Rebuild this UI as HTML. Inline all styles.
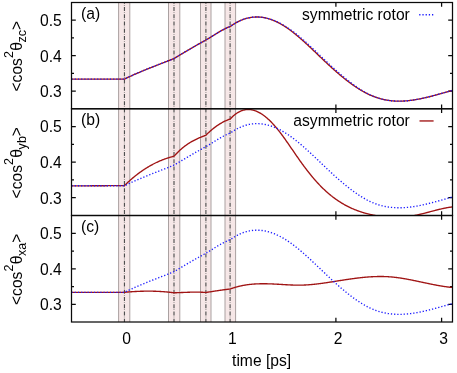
<!DOCTYPE html>
<html><head><meta charset="utf-8"><title>chart</title>
<style>html,body{margin:0;padding:0;background:#fff;width:457px;height:373px;overflow:hidden}body{position:relative;font-family:"Liberation Sans",sans-serif}</style>
</head><body>
<svg width="457" height="373" viewBox="0 0 457 373" style="display:block;position:absolute;left:0;top:0;will-change:transform" font-family="Liberation Sans, sans-serif" font-size="15.65" fill="#000">
<defs>
<clipPath id="cpa"><rect x="71.5" y="2.5" width="381.0" height="106.25"/></clipPath>
<clipPath id="cpb"><rect x="71.5" y="108.75" width="381.0" height="106.75"/></clipPath>
<clipPath id="cpc"><rect x="71.5" y="215.5" width="381.0" height="106.5"/></clipPath>
</defs>
<g stroke="#0a0a0a" stroke-width="1.25" fill="none">
<path d="M71.5,91.04h4.3 M452.5,91.04h-4.3"/>
<path d="M71.5,55.62h4.3 M452.5,55.62h-4.3"/>
<path d="M71.5,20.21h4.3 M452.5,20.21h-4.3"/>
<path d="M71.5,73.33h2.5 M452.5,73.33h-2.5"/>
<path d="M71.5,37.92h2.5 M452.5,37.92h-2.5"/>
<path d="M124.50,108.75v-4.3 M124.50,2.5v4.3"/>
<path d="M230.20,108.75v-4.3 M230.20,2.5v4.3"/>
<path d="M335.90,108.75v-4.3 M335.90,2.5v4.3"/>
<path d="M441.60,108.75v-4.3 M441.60,2.5v4.3"/>
<path d="M71.5,197.71h4.3 M452.5,197.71h-4.3"/>
<path d="M71.5,162.12h4.3 M452.5,162.12h-4.3"/>
<path d="M71.5,126.54h4.3 M452.5,126.54h-4.3"/>
<path d="M71.5,179.92h2.5 M452.5,179.92h-2.5"/>
<path d="M71.5,144.33h2.5 M452.5,144.33h-2.5"/>
<path d="M124.50,215.5v-4.3 M124.50,108.75v4.3"/>
<path d="M230.20,215.5v-4.3 M230.20,108.75v4.3"/>
<path d="M335.90,215.5v-4.3 M335.90,108.75v4.3"/>
<path d="M441.60,215.5v-4.3 M441.60,108.75v4.3"/>
<path d="M71.5,304.25h4.3 M452.5,304.25h-4.3"/>
<path d="M71.5,268.75h4.3 M452.5,268.75h-4.3"/>
<path d="M71.5,233.25h4.3 M452.5,233.25h-4.3"/>
<path d="M71.5,286.50h2.5 M452.5,286.50h-2.5"/>
<path d="M71.5,251.00h2.5 M452.5,251.00h-2.5"/>
<path d="M124.50,322.0v-4.3 M124.50,215.5v4.3"/>
<path d="M230.20,322.0v-4.3 M230.20,215.5v4.3"/>
<path d="M335.90,322.0v-4.3 M335.90,215.5v4.3"/>
<path d="M441.60,322.0v-4.3 M441.60,215.5v4.3"/>
</g>
<rect x="118.60" y="2.5" width="11.20" height="319.5" fill="#f6e7e7"/>
<line x1="118.60" y1="2.5" x2="118.60" y2="322" stroke="#aaa1a1" stroke-width="1"/>
<line x1="129.80" y1="2.5" x2="129.80" y2="322" stroke="#aaa1a1" stroke-width="1"/>
<line x1="124.45" y1="2.5" x2="124.45" y2="322" stroke="#505050" stroke-width="1.15" stroke-dasharray="4.0 1.35 0.5 1.4" stroke-dashoffset="2.75"/>
<rect x="168.50" y="2.5" width="11.30" height="319.5" fill="#f6e7e7"/>
<line x1="168.50" y1="2.5" x2="168.50" y2="322" stroke="#aaa1a1" stroke-width="1"/>
<line x1="179.80" y1="2.5" x2="179.80" y2="322" stroke="#aaa1a1" stroke-width="1"/>
<line x1="174.00" y1="2.5" x2="174.00" y2="322" stroke="#505050" stroke-width="1.15" stroke-dasharray="4.0 1.35 0.5 1.4" stroke-dashoffset="2.75"/>
<rect x="200.50" y="2.5" width="10.50" height="319.5" fill="#f6e7e7"/>
<line x1="200.50" y1="2.5" x2="200.50" y2="322" stroke="#aaa1a1" stroke-width="1"/>
<line x1="211.00" y1="2.5" x2="211.00" y2="322" stroke="#aaa1a1" stroke-width="1"/>
<line x1="205.90" y1="2.5" x2="205.90" y2="322" stroke="#505050" stroke-width="1.15" stroke-dasharray="4.0 1.35 0.5 1.4" stroke-dashoffset="2.75"/>
<rect x="225.00" y="2.5" width="10.60" height="319.5" fill="#f6e7e7"/>
<line x1="225.00" y1="2.5" x2="225.00" y2="322" stroke="#aaa1a1" stroke-width="1"/>
<line x1="235.60" y1="2.5" x2="235.60" y2="322" stroke="#aaa1a1" stroke-width="1"/>
<line x1="230.10" y1="2.5" x2="230.10" y2="322" stroke="#505050" stroke-width="1.15" stroke-dasharray="4.0 1.35 0.5 1.4" stroke-dashoffset="2.75"/>
<g fill="none" stroke-linejoin="round">
<path clip-path="url(#cpa)" d="M71.50,79.10 L72.00,79.10 L72.50,79.10 L73.00,79.10 L73.50,79.10 L74.00,79.10 L74.50,79.10 L75.00,79.10 L75.50,79.10 L76.00,79.10 L76.50,79.10 L77.00,79.10 L77.50,79.10 L78.00,79.10 L78.50,79.10 L79.00,79.10 L79.50,79.10 L80.00,79.10 L80.50,79.10 L81.00,79.10 L81.50,79.10 L82.00,79.10 L82.50,79.10 L83.00,79.10 L83.50,79.10 L84.00,79.10 L84.50,79.10 L85.00,79.10 L85.50,79.10 L86.00,79.10 L86.50,79.10 L87.00,79.10 L87.50,79.10 L88.00,79.10 L88.50,79.10 L89.00,79.10 L89.50,79.10 L90.00,79.10 L90.50,79.10 L91.00,79.10 L91.50,79.10 L92.00,79.10 L92.50,79.10 L93.00,79.10 L93.50,79.10 L94.00,79.10 L94.50,79.10 L95.00,79.10 L95.50,79.10 L96.00,79.10 L96.50,79.10 L97.00,79.10 L97.50,79.10 L98.00,79.10 L98.50,79.10 L99.00,79.10 L99.50,79.10 L100.00,79.10 L100.50,79.10 L101.00,79.10 L101.50,79.10 L102.00,79.10 L102.50,79.10 L103.00,79.10 L103.50,79.10 L104.00,79.10 L104.50,79.10 L105.00,79.10 L105.50,79.10 L106.00,79.10 L106.50,79.10 L107.00,79.10 L107.50,79.10 L108.00,79.10 L108.50,79.10 L109.00,79.10 L109.50,79.10 L110.00,79.10 L110.50,79.10 L111.00,79.10 L111.50,79.10 L112.00,79.10 L112.50,79.10 L113.00,79.10 L113.50,79.10 L114.00,79.10 L114.50,79.10 L115.00,79.10 L115.50,79.10 L116.00,79.10 L116.50,79.10 L117.00,79.10 L117.50,79.10 L118.00,79.10 L118.50,79.10 L119.00,79.10 L119.50,79.10 L120.00,79.10 L120.50,79.10 L121.00,79.10 L121.50,79.10 L122.00,79.10 L122.50,79.10 L123.00,79.10 L123.50,79.10 L124.00,79.10 L124.40,79.10 L124.90,78.86 L125.40,78.61 L125.90,78.37 L126.40,78.13 L126.90,77.89 L127.40,77.66 L127.90,77.42 L128.40,77.19 L128.90,76.95 L129.40,76.72 L129.90,76.49 L130.40,76.26 L130.90,76.03 L131.40,75.80 L131.90,75.58 L132.40,75.35 L132.90,75.13 L133.40,74.90 L133.90,74.68 L134.40,74.46 L134.90,74.24 L135.40,74.02 L135.90,73.80 L136.40,73.58 L136.90,73.37 L137.40,73.15 L137.90,72.94 L138.40,72.72 L138.90,72.51 L139.40,72.30 L139.90,72.08 L140.40,71.87 L140.90,71.66 L141.40,71.45 L141.90,71.24 L142.40,71.04 L142.90,70.83 L143.40,70.62 L143.90,70.42 L144.40,70.21 L144.90,70.01 L145.40,69.80 L145.90,69.60 L146.40,69.40 L146.90,69.19 L147.40,68.99 L147.90,68.79 L148.40,68.59 L148.90,68.39 L149.40,68.19 L149.90,67.99 L150.40,67.79 L150.90,67.59 L151.40,67.39 L151.90,67.20 L152.40,67.00 L152.90,66.80 L153.40,66.60 L153.90,66.41 L154.40,66.21 L154.90,66.02 L155.40,65.82 L155.90,65.62 L156.40,65.43 L156.90,65.23 L157.40,65.04 L157.90,64.84 L158.40,64.65 L158.90,64.45 L159.40,64.26 L159.90,64.07 L160.40,63.87 L160.90,63.68 L161.40,63.48 L161.90,63.29 L162.40,63.09 L162.90,62.90 L163.40,62.70 L163.90,62.51 L164.40,62.32 L164.90,62.12 L165.40,61.93 L165.90,61.73 L166.40,61.54 L166.90,61.34 L167.40,61.14 L167.90,60.95 L168.40,60.75 L168.90,60.56 L169.40,60.36 L169.90,60.16 L170.40,59.97 L170.90,59.77 L171.40,59.57 L171.90,59.37 L172.40,59.17 L172.90,58.98 L173.40,58.78 L173.90,58.58 L174.10,58.50 L174.60,58.20 L175.10,57.90 L175.60,57.59 L176.10,57.29 L176.60,56.99 L177.10,56.69 L177.60,56.39 L178.10,56.09 L178.60,55.79 L179.10,55.49 L179.60,55.19 L180.10,54.89 L180.60,54.59 L181.10,54.29 L181.60,53.99 L182.10,53.69 L182.60,53.39 L183.10,53.09 L183.60,52.80 L184.10,52.50 L184.60,52.20 L185.10,51.90 L185.60,51.61 L186.10,51.31 L186.60,51.02 L187.10,50.72 L187.60,50.43 L188.10,50.13 L188.60,49.84 L189.10,49.55 L189.60,49.25 L190.10,48.96 L190.60,48.67 L191.10,48.38 L191.60,48.09 L192.10,47.80 L192.60,47.51 L193.10,47.22 L193.60,46.93 L194.10,46.64 L194.60,46.36 L195.10,46.07 L195.60,45.78 L196.10,45.50 L196.60,45.21 L197.10,44.93 L197.60,44.65 L198.10,44.36 L198.60,44.08 L199.10,43.80 L199.60,43.52 L200.10,43.24 L200.60,42.96 L201.10,42.68 L201.60,42.40 L202.10,42.13 L202.60,41.85 L203.10,41.57 L203.60,41.30 L204.10,41.03 L204.60,40.75 L205.10,40.48 L205.60,40.21 L205.80,40.10 L206.30,39.81 L206.80,39.52 L207.30,39.22 L207.80,38.92 L208.30,38.62 L208.80,38.32 L209.30,38.02 L209.80,37.71 L210.30,37.40 L210.80,37.09 L211.30,36.78 L211.80,36.47 L212.30,36.15 L212.80,35.84 L213.30,35.53 L213.80,35.22 L214.30,34.90 L214.80,34.59 L215.30,34.28 L215.80,33.97 L216.30,33.66 L216.80,33.35 L217.30,33.05 L217.80,32.74 L218.30,32.44 L218.80,32.14 L219.30,31.84 L219.80,31.55 L220.30,31.26 L220.80,30.97 L221.30,30.69 L221.80,30.41 L222.30,30.13 L222.80,29.86 L223.30,29.60 L223.80,29.33 L224.30,29.08 L224.80,28.82 L225.30,28.58 L225.80,28.34 L226.30,28.10 L226.80,27.87 L227.30,27.65 L227.80,27.44 L228.30,27.23 L228.80,27.03 L229.30,26.83 L229.80,26.65 L230.20,26.57 L230.70,26.21 L231.20,25.85 L231.70,25.50 L232.20,25.15 L232.70,24.81 L233.20,24.48 L233.70,24.16 L234.20,23.85 L234.70,23.54 L235.20,23.24 L235.70,22.95 L236.20,22.67 L236.70,22.39 L237.20,22.12 L237.70,21.86 L238.20,21.60 L238.70,21.35 L239.20,21.11 L239.70,20.88 L240.20,20.65 L240.70,20.43 L241.20,20.22 L241.70,20.01 L242.20,19.81 L242.70,19.62 L243.20,19.44 L243.70,19.26 L244.20,19.09 L244.70,18.92 L245.20,18.77 L245.70,18.62 L246.20,18.47 L246.70,18.34 L247.20,18.21 L247.70,18.08 L248.20,17.97 L248.70,17.86 L249.20,17.76 L249.70,17.66 L250.20,17.57 L250.70,17.49 L251.20,17.41 L251.70,17.34 L252.20,17.28 L252.70,17.22 L253.20,17.17 L253.70,17.13 L254.20,17.09 L254.70,17.06 L255.20,17.03 L255.70,17.01 L256.20,17.00 L256.70,17.00 L257.20,17.00 L257.70,17.00 L258.20,17.01 L258.70,17.03 L259.20,17.06 L259.70,17.09 L260.20,17.13 L260.70,17.18 L261.20,17.23 L261.70,17.29 L262.20,17.35 L262.70,17.42 L263.20,17.50 L263.70,17.58 L264.20,17.67 L264.70,17.77 L265.20,17.87 L265.70,17.98 L266.20,18.09 L266.70,18.21 L267.20,18.34 L267.70,18.47 L268.20,18.61 L268.70,18.75 L269.20,18.91 L269.70,19.06 L270.20,19.22 L270.70,19.39 L271.20,19.57 L271.70,19.75 L272.20,19.93 L272.70,20.12 L273.20,20.32 L273.70,20.52 L274.20,20.73 L274.70,20.95 L275.20,21.17 L275.70,21.39 L276.20,21.62 L276.70,21.86 L277.20,22.10 L277.70,22.35 L278.20,22.60 L278.70,22.86 L279.20,23.12 L279.70,23.39 L280.20,23.66 L280.70,23.94 L281.20,24.23 L281.70,24.51 L282.20,24.81 L282.70,25.11 L283.20,25.41 L283.70,25.72 L284.20,26.03 L284.70,26.35 L285.20,26.68 L285.70,27.01 L286.20,27.34 L286.70,27.68 L287.20,28.02 L287.70,28.37 L288.20,28.72 L288.70,29.07 L289.20,29.43 L289.70,29.80 L290.20,30.16 L290.70,30.54 L291.20,30.91 L291.70,31.29 L292.20,31.68 L292.70,32.06 L293.20,32.45 L293.70,32.85 L294.20,33.25 L294.70,33.65 L295.20,34.05 L295.70,34.46 L296.20,34.87 L296.70,35.28 L297.20,35.70 L297.70,36.12 L298.20,36.54 L298.70,36.97 L299.20,37.40 L299.70,37.83 L300.20,38.26 L300.70,38.70 L301.20,39.14 L301.70,39.58 L302.20,40.02 L302.70,40.47 L303.20,40.92 L303.70,41.37 L304.20,41.82 L304.70,42.27 L305.20,42.73 L305.70,43.18 L306.20,43.64 L306.70,44.10 L307.20,44.56 L307.70,45.03 L308.20,45.49 L308.70,45.96 L309.20,46.43 L309.70,46.90 L310.20,47.37 L310.70,47.84 L311.20,48.31 L311.70,48.78 L312.20,49.26 L312.70,49.73 L313.20,50.21 L313.70,50.68 L314.20,51.16 L314.70,51.63 L315.20,52.11 L315.70,52.59 L316.20,53.07 L316.70,53.55 L317.20,54.02 L317.70,54.50 L318.20,54.98 L318.70,55.46 L319.20,55.94 L319.70,56.42 L320.20,56.89 L320.70,57.37 L321.20,57.85 L321.70,58.33 L322.20,58.80 L322.70,59.28 L323.20,59.75 L323.70,60.23 L324.20,60.70 L324.70,61.17 L325.20,61.65 L325.70,62.12 L326.20,62.59 L326.70,63.06 L327.20,63.52 L327.70,63.99 L328.20,64.46 L328.70,64.92 L329.20,65.38 L329.70,65.84 L330.20,66.30 L330.70,66.76 L331.20,67.22 L331.70,67.67 L332.20,68.13 L332.70,68.58 L333.20,69.03 L333.70,69.47 L334.20,69.92 L334.70,70.37 L335.20,70.81 L335.70,71.25 L336.20,71.69 L336.70,72.12 L337.20,72.56 L337.70,72.99 L338.20,73.42 L338.70,73.85 L339.20,74.27 L339.70,74.70 L340.20,75.12 L340.70,75.54 L341.20,75.96 L341.70,76.37 L342.20,76.78 L342.70,77.19 L343.20,77.60 L343.70,78.00 L344.20,78.41 L344.70,78.81 L345.20,79.20 L345.70,79.60 L346.20,79.99 L346.70,80.38 L347.20,80.77 L347.70,81.15 L348.20,81.53 L348.70,81.91 L349.20,82.28 L349.70,82.66 L350.20,83.03 L350.70,83.39 L351.20,83.76 L351.70,84.12 L352.20,84.47 L352.70,84.83 L353.20,85.18 L353.70,85.53 L354.20,85.87 L354.70,86.21 L355.20,86.55 L355.70,86.89 L356.20,87.22 L356.70,87.55 L357.20,87.87 L357.70,88.20 L358.20,88.51 L358.70,88.83 L359.20,89.14 L359.70,89.45 L360.20,89.75 L360.70,90.05 L361.20,90.35 L361.70,90.64 L362.20,90.93 L362.70,91.22 L363.20,91.50 L363.70,91.78 L364.20,92.06 L364.70,92.33 L365.20,92.59 L365.70,92.86 L366.20,93.12 L366.70,93.37 L367.20,93.62 L367.70,93.87 L368.20,94.11 L368.70,94.35 L369.20,94.58 L369.70,94.82 L370.20,95.04 L370.70,95.26 L371.20,95.48 L371.70,95.69 L372.20,95.90 L372.70,96.11 L373.20,96.31 L373.70,96.50 L374.20,96.69 L374.70,96.88 L375.20,97.06 L375.70,97.24 L376.20,97.41 L376.70,97.58 L377.20,97.75 L377.70,97.91 L378.20,98.06 L378.70,98.21 L379.20,98.36 L379.70,98.51 L380.20,98.65 L380.70,98.78 L381.20,98.91 L381.70,99.04 L382.20,99.16 L382.70,99.29 L383.20,99.40 L383.70,99.51 L384.20,99.62 L384.70,99.73 L385.20,99.83 L385.70,99.93 L386.20,100.02 L386.70,100.11 L387.20,100.19 L387.70,100.28 L388.20,100.35 L388.70,100.43 L389.20,100.50 L389.70,100.56 L390.20,100.62 L390.70,100.68 L391.20,100.74 L391.70,100.79 L392.20,100.84 L392.70,100.88 L393.20,100.92 L393.70,100.96 L394.20,100.99 L394.70,101.02 L395.20,101.05 L395.70,101.07 L396.20,101.09 L396.70,101.11 L397.20,101.12 L397.70,101.13 L398.20,101.14 L398.70,101.14 L399.20,101.15 L399.70,101.14 L400.20,101.14 L400.70,101.13 L401.20,101.12 L401.70,101.10 L402.20,101.09 L402.70,101.07 L403.20,101.04 L403.70,101.02 L404.20,100.99 L404.70,100.96 L405.20,100.92 L405.70,100.89 L406.20,100.85 L406.70,100.80 L407.20,100.76 L407.70,100.71 L408.20,100.66 L408.70,100.61 L409.20,100.56 L409.70,100.50 L410.20,100.44 L410.70,100.38 L411.20,100.31 L411.70,100.25 L412.20,100.18 L412.70,100.11 L413.20,100.03 L413.70,99.96 L414.20,99.88 L414.70,99.80 L415.20,99.72 L415.70,99.64 L416.20,99.55 L416.70,99.46 L417.20,99.38 L417.70,99.28 L418.20,99.19 L418.70,99.10 L419.20,99.00 L419.70,98.90 L420.20,98.80 L420.70,98.70 L421.20,98.60 L421.70,98.49 L422.20,98.39 L422.70,98.28 L423.20,98.17 L423.70,98.06 L424.20,97.95 L424.70,97.83 L425.20,97.72 L425.70,97.60 L426.20,97.48 L426.70,97.37 L427.20,97.25 L427.70,97.12 L428.20,97.00 L428.70,96.88 L429.20,96.75 L429.70,96.63 L430.20,96.50 L430.70,96.37 L431.20,96.25 L431.70,96.12 L432.20,95.99 L432.70,95.86 L433.20,95.72 L433.70,95.59 L434.20,95.46 L434.70,95.32 L435.20,95.19 L435.70,95.05 L436.20,94.92 L436.70,94.78 L437.20,94.64 L437.70,94.51 L438.20,94.37 L438.70,94.23 L439.20,94.09 L439.70,93.95 L440.20,93.81 L440.70,93.67 L441.20,93.53 L441.70,93.39 L442.20,93.25 L442.70,93.11 L443.20,92.97 L443.70,92.83 L444.20,92.69 L444.70,92.55 L445.20,92.41 L445.70,92.26 L446.20,92.12 L446.70,91.98 L447.20,91.84 L447.70,91.70 L448.20,91.56 L448.70,91.42 L449.20,91.28 L449.70,91.14 L450.20,91.00 L450.70,90.87 L451.20,90.73 L451.70,90.59 L452.20,90.45 L452.50,90.40" stroke="#a01414" stroke-width="1.35"/>
<path clip-path="url(#cpa)" d="M71.50,79.10 L72.00,79.10 L72.50,79.10 L73.00,79.10 L73.50,79.10 L74.00,79.10 L74.50,79.10 L75.00,79.10 L75.50,79.10 L76.00,79.10 L76.50,79.10 L77.00,79.10 L77.50,79.10 L78.00,79.10 L78.50,79.10 L79.00,79.10 L79.50,79.10 L80.00,79.10 L80.50,79.10 L81.00,79.10 L81.50,79.10 L82.00,79.10 L82.50,79.10 L83.00,79.10 L83.50,79.10 L84.00,79.10 L84.50,79.10 L85.00,79.10 L85.50,79.10 L86.00,79.10 L86.50,79.10 L87.00,79.10 L87.50,79.10 L88.00,79.10 L88.50,79.10 L89.00,79.10 L89.50,79.10 L90.00,79.10 L90.50,79.10 L91.00,79.10 L91.50,79.10 L92.00,79.10 L92.50,79.10 L93.00,79.10 L93.50,79.10 L94.00,79.10 L94.50,79.10 L95.00,79.10 L95.50,79.10 L96.00,79.10 L96.50,79.10 L97.00,79.10 L97.50,79.10 L98.00,79.10 L98.50,79.10 L99.00,79.10 L99.50,79.10 L100.00,79.10 L100.50,79.10 L101.00,79.10 L101.50,79.10 L102.00,79.10 L102.50,79.10 L103.00,79.10 L103.50,79.10 L104.00,79.10 L104.50,79.10 L105.00,79.10 L105.50,79.10 L106.00,79.10 L106.50,79.10 L107.00,79.10 L107.50,79.10 L108.00,79.10 L108.50,79.10 L109.00,79.10 L109.50,79.10 L110.00,79.10 L110.50,79.10 L111.00,79.10 L111.50,79.10 L112.00,79.10 L112.50,79.10 L113.00,79.10 L113.50,79.10 L114.00,79.10 L114.50,79.10 L115.00,79.10 L115.50,79.10 L116.00,79.10 L116.50,79.10 L117.00,79.10 L117.50,79.10 L118.00,79.10 L118.50,79.10 L119.00,79.10 L119.50,79.10 L120.00,79.10 L120.50,79.10 L121.00,79.10 L121.50,79.10 L122.00,79.10 L122.50,79.10 L123.00,79.10 L123.50,79.10 L124.00,79.10 L124.40,79.10 L124.90,78.86 L125.40,78.61 L125.90,78.37 L126.40,78.13 L126.90,77.89 L127.40,77.66 L127.90,77.42 L128.40,77.19 L128.90,76.95 L129.40,76.72 L129.90,76.49 L130.40,76.26 L130.90,76.03 L131.40,75.80 L131.90,75.58 L132.40,75.35 L132.90,75.13 L133.40,74.90 L133.90,74.68 L134.40,74.46 L134.90,74.24 L135.40,74.02 L135.90,73.80 L136.40,73.58 L136.90,73.37 L137.40,73.15 L137.90,72.94 L138.40,72.72 L138.90,72.51 L139.40,72.30 L139.90,72.08 L140.40,71.87 L140.90,71.66 L141.40,71.45 L141.90,71.24 L142.40,71.04 L142.90,70.83 L143.40,70.62 L143.90,70.42 L144.40,70.21 L144.90,70.01 L145.40,69.80 L145.90,69.60 L146.40,69.40 L146.90,69.19 L147.40,68.99 L147.90,68.79 L148.40,68.59 L148.90,68.39 L149.40,68.19 L149.90,67.99 L150.40,67.79 L150.90,67.59 L151.40,67.39 L151.90,67.20 L152.40,67.00 L152.90,66.80 L153.40,66.60 L153.90,66.41 L154.40,66.21 L154.90,66.02 L155.40,65.82 L155.90,65.62 L156.40,65.43 L156.90,65.23 L157.40,65.04 L157.90,64.84 L158.40,64.65 L158.90,64.45 L159.40,64.26 L159.90,64.07 L160.40,63.87 L160.90,63.68 L161.40,63.48 L161.90,63.29 L162.40,63.09 L162.90,62.90 L163.40,62.70 L163.90,62.51 L164.40,62.32 L164.90,62.12 L165.40,61.93 L165.90,61.73 L166.40,61.54 L166.90,61.34 L167.40,61.14 L167.90,60.95 L168.40,60.75 L168.90,60.56 L169.40,60.36 L169.90,60.16 L170.40,59.97 L170.90,59.77 L171.40,59.57 L171.90,59.37 L172.40,59.17 L172.90,58.98 L173.40,58.78 L173.90,58.58 L174.10,58.50 L174.60,58.20 L175.10,57.90 L175.60,57.59 L176.10,57.29 L176.60,56.99 L177.10,56.69 L177.60,56.39 L178.10,56.09 L178.60,55.79 L179.10,55.49 L179.60,55.19 L180.10,54.89 L180.60,54.59 L181.10,54.29 L181.60,53.99 L182.10,53.69 L182.60,53.39 L183.10,53.09 L183.60,52.80 L184.10,52.50 L184.60,52.20 L185.10,51.90 L185.60,51.61 L186.10,51.31 L186.60,51.02 L187.10,50.72 L187.60,50.43 L188.10,50.13 L188.60,49.84 L189.10,49.55 L189.60,49.25 L190.10,48.96 L190.60,48.67 L191.10,48.38 L191.60,48.09 L192.10,47.80 L192.60,47.51 L193.10,47.22 L193.60,46.93 L194.10,46.64 L194.60,46.36 L195.10,46.07 L195.60,45.78 L196.10,45.50 L196.60,45.21 L197.10,44.93 L197.60,44.65 L198.10,44.36 L198.60,44.08 L199.10,43.80 L199.60,43.52 L200.10,43.24 L200.60,42.96 L201.10,42.68 L201.60,42.40 L202.10,42.13 L202.60,41.85 L203.10,41.57 L203.60,41.30 L204.10,41.03 L204.60,40.75 L205.10,40.48 L205.60,40.21 L205.80,40.10 L206.30,39.81 L206.80,39.52 L207.30,39.22 L207.80,38.92 L208.30,38.62 L208.80,38.32 L209.30,38.02 L209.80,37.71 L210.30,37.40 L210.80,37.09 L211.30,36.78 L211.80,36.47 L212.30,36.15 L212.80,35.84 L213.30,35.53 L213.80,35.22 L214.30,34.90 L214.80,34.59 L215.30,34.28 L215.80,33.97 L216.30,33.66 L216.80,33.35 L217.30,33.05 L217.80,32.74 L218.30,32.44 L218.80,32.14 L219.30,31.84 L219.80,31.55 L220.30,31.26 L220.80,30.97 L221.30,30.69 L221.80,30.41 L222.30,30.13 L222.80,29.86 L223.30,29.60 L223.80,29.33 L224.30,29.08 L224.80,28.82 L225.30,28.58 L225.80,28.34 L226.30,28.10 L226.80,27.87 L227.30,27.65 L227.80,27.44 L228.30,27.23 L228.80,27.03 L229.30,26.83 L229.80,26.65 L230.20,26.57 L230.70,26.21 L231.20,25.85 L231.70,25.50 L232.20,25.15 L232.70,24.81 L233.20,24.48 L233.70,24.16 L234.20,23.85 L234.70,23.54 L235.20,23.24 L235.70,22.95 L236.20,22.67 L236.70,22.39 L237.20,22.12 L237.70,21.86 L238.20,21.60 L238.70,21.35 L239.20,21.11 L239.70,20.88 L240.20,20.65 L240.70,20.43 L241.20,20.22 L241.70,20.01 L242.20,19.81 L242.70,19.62 L243.20,19.44 L243.70,19.26 L244.20,19.09 L244.70,18.92 L245.20,18.77 L245.70,18.62 L246.20,18.47 L246.70,18.34 L247.20,18.21 L247.70,18.08 L248.20,17.97 L248.70,17.86 L249.20,17.76 L249.70,17.66 L250.20,17.57 L250.70,17.49 L251.20,17.41 L251.70,17.34 L252.20,17.28 L252.70,17.22 L253.20,17.17 L253.70,17.13 L254.20,17.09 L254.70,17.06 L255.20,17.03 L255.70,17.01 L256.20,17.00 L256.70,17.00 L257.20,17.00 L257.70,17.00 L258.20,17.01 L258.70,17.03 L259.20,17.06 L259.70,17.09 L260.20,17.13 L260.70,17.17 L261.20,17.22 L261.70,17.27 L262.20,17.34 L262.70,17.40 L263.20,17.48 L263.70,17.56 L264.20,17.64 L264.70,17.73 L265.20,17.83 L265.70,17.93 L266.20,18.04 L266.70,18.15 L267.20,18.27 L267.70,18.40 L268.20,18.53 L268.70,18.67 L269.20,18.81 L269.70,18.96 L270.20,19.11 L270.70,19.27 L271.20,19.43 L271.70,19.60 L272.20,19.78 L272.70,19.96 L273.20,20.15 L273.70,20.34 L274.20,20.53 L274.70,20.74 L275.20,20.94 L275.70,21.16 L276.20,21.38 L276.70,21.60 L277.20,21.83 L277.70,22.06 L278.20,22.30 L278.70,22.55 L279.20,22.79 L279.70,23.05 L280.20,23.31 L280.70,23.57 L281.20,23.84 L281.70,24.12 L282.20,24.40 L282.70,24.68 L283.20,24.97 L283.70,25.26 L284.20,25.56 L284.70,25.86 L285.20,26.17 L285.70,26.49 L286.20,26.80 L286.70,27.13 L287.20,27.45 L287.70,27.78 L288.20,28.12 L288.70,28.46 L289.20,28.80 L289.70,29.15 L290.20,29.50 L290.70,29.86 L291.20,30.22 L291.70,30.58 L292.20,30.95 L292.70,31.32 L293.20,31.69 L293.70,32.07 L294.20,32.45 L294.70,32.84 L295.20,33.23 L295.70,33.62 L296.20,34.02 L296.70,34.42 L297.20,34.82 L297.70,35.22 L298.20,35.63 L298.70,36.04 L299.20,36.46 L299.70,36.87 L300.20,37.29 L300.70,37.71 L301.20,38.14 L301.70,38.57 L302.20,39.00 L302.70,39.43 L303.20,39.86 L303.70,40.30 L304.20,40.74 L304.70,41.18 L305.20,41.63 L305.70,42.07 L306.20,42.52 L306.70,42.97 L307.20,43.42 L307.70,43.87 L308.20,44.33 L308.70,44.79 L309.20,45.24 L309.70,45.70 L310.20,46.16 L310.70,46.63 L311.20,47.09 L311.70,47.56 L312.20,48.02 L312.70,48.49 L313.20,48.96 L313.70,49.43 L314.20,49.90 L314.70,50.37 L315.20,50.84 L315.70,51.32 L316.20,51.79 L316.70,52.26 L317.20,52.74 L317.70,53.21 L318.20,53.69 L318.70,54.17 L319.20,54.64 L319.70,55.12 L320.20,55.60 L320.70,56.07 L321.20,56.55 L321.70,57.03 L322.20,57.50 L322.70,57.98 L323.20,58.46 L323.70,58.93 L324.20,59.41 L324.70,59.88 L325.20,60.36 L325.70,60.83 L326.20,61.30 L326.70,61.78 L327.20,62.25 L327.70,62.72 L328.20,63.19 L328.70,63.66 L329.20,64.13 L329.70,64.60 L330.20,65.06 L330.70,65.53 L331.20,65.99 L331.70,66.45 L332.20,66.91 L332.70,67.37 L333.20,67.83 L333.70,68.29 L334.20,68.75 L334.70,69.20 L335.20,69.65 L335.70,70.10 L336.20,70.55 L336.70,71.00 L337.20,71.44 L337.70,71.89 L338.20,72.33 L338.70,72.77 L339.20,73.21 L339.70,73.64 L340.20,74.08 L340.70,74.51 L341.20,74.94 L341.70,75.37 L342.20,75.79 L342.70,76.22 L343.20,76.64 L343.70,77.06 L344.20,77.47 L344.70,77.89 L345.20,78.30 L345.70,78.71 L346.20,79.12 L346.70,79.52 L347.20,79.92 L347.70,80.32 L348.20,80.72 L348.70,81.11 L349.20,81.50 L349.70,81.89 L350.20,82.28 L350.70,82.66 L351.20,83.04 L351.70,83.42 L352.20,83.79 L352.70,84.16 L353.20,84.53 L353.70,84.89 L354.20,85.25 L354.70,85.61 L355.20,85.97 L355.70,86.32 L356.20,86.66 L356.70,87.01 L357.20,87.35 L357.70,87.69 L358.20,88.02 L358.70,88.35 L359.20,88.68 L359.70,89.00 L360.20,89.32 L360.70,89.64 L361.20,89.95 L361.70,90.26 L362.20,90.56 L362.70,90.86 L363.20,91.16 L363.70,91.45 L364.20,91.74 L364.70,92.03 L365.20,92.31 L365.70,92.58 L366.20,92.85 L366.70,93.12 L367.20,93.39 L367.70,93.64 L368.20,93.90 L368.70,94.15 L369.20,94.40 L369.70,94.64 L370.20,94.87 L370.70,95.11 L371.20,95.33 L371.70,95.56 L372.20,95.78 L372.70,95.99 L373.20,96.20 L373.70,96.40 L374.20,96.60 L374.70,96.80 L375.20,96.99 L375.70,97.17 L376.20,97.35 L376.70,97.53 L377.20,97.70 L377.70,97.86 L378.20,98.03 L378.70,98.18 L379.20,98.34 L379.70,98.48 L380.20,98.63 L380.70,98.77 L381.20,98.90 L381.70,99.03 L382.20,99.16 L382.70,99.28 L383.20,99.40 L383.70,99.51 L384.20,99.62 L384.70,99.73 L385.20,99.83 L385.70,99.93 L386.20,100.02 L386.70,100.11 L387.20,100.19 L387.70,100.28 L388.20,100.35 L388.70,100.43 L389.20,100.50 L389.70,100.56 L390.20,100.62 L390.70,100.68 L391.20,100.74 L391.70,100.79 L392.20,100.84 L392.70,100.88 L393.20,100.92 L393.70,100.96 L394.20,100.99 L394.70,101.02 L395.20,101.05 L395.70,101.07 L396.20,101.09 L396.70,101.11 L397.20,101.12 L397.70,101.13 L398.20,101.14 L398.70,101.14 L399.20,101.15 L399.70,101.14 L400.20,101.14 L400.70,101.13 L401.20,101.12 L401.70,101.10 L402.20,101.09 L402.70,101.07 L403.20,101.04 L403.70,101.02 L404.20,100.99 L404.70,100.96 L405.20,100.92 L405.70,100.89 L406.20,100.85 L406.70,100.80 L407.20,100.76 L407.70,100.71 L408.20,100.66 L408.70,100.61 L409.20,100.56 L409.70,100.50 L410.20,100.44 L410.70,100.38 L411.20,100.31 L411.70,100.25 L412.20,100.18 L412.70,100.11 L413.20,100.03 L413.70,99.96 L414.20,99.88 L414.70,99.80 L415.20,99.72 L415.70,99.64 L416.20,99.55 L416.70,99.46 L417.20,99.38 L417.70,99.28 L418.20,99.19 L418.70,99.10 L419.20,99.00 L419.70,98.90 L420.20,98.80 L420.70,98.70 L421.20,98.60 L421.70,98.49 L422.20,98.39 L422.70,98.28 L423.20,98.17 L423.70,98.06 L424.20,97.95 L424.70,97.83 L425.20,97.72 L425.70,97.60 L426.20,97.48 L426.70,97.37 L427.20,97.25 L427.70,97.12 L428.20,97.00 L428.70,96.88 L429.20,96.75 L429.70,96.63 L430.20,96.50 L430.70,96.37 L431.20,96.25 L431.70,96.12 L432.20,95.99 L432.70,95.86 L433.20,95.72 L433.70,95.59 L434.20,95.46 L434.70,95.32 L435.20,95.19 L435.70,95.05 L436.20,94.92 L436.70,94.78 L437.20,94.64 L437.70,94.51 L438.20,94.37 L438.70,94.23 L439.20,94.09 L439.70,93.95 L440.20,93.81 L440.70,93.67 L441.20,93.53 L441.70,93.39 L442.20,93.25 L442.70,93.11 L443.20,92.97 L443.70,92.83 L444.20,92.69 L444.70,92.55 L445.20,92.41 L445.70,92.26 L446.20,92.12 L446.70,91.98 L447.20,91.84 L447.70,91.70 L448.20,91.56 L448.70,91.42 L449.20,91.28 L449.70,91.14 L450.20,91.00 L450.70,90.87 L451.20,90.73 L451.70,90.59 L452.20,90.45 L452.50,90.40" stroke="#1a1aff" stroke-width="1.35" stroke-dasharray="1.25 1.95"/>
<path clip-path="url(#cpb)" d="M71.50,185.90 L72.00,185.90 L72.50,185.89 L73.00,185.89 L73.50,185.89 L74.00,185.89 L74.50,185.88 L75.00,185.88 L75.50,185.88 L76.00,185.87 L76.50,185.87 L77.00,185.87 L77.50,185.87 L78.00,185.86 L78.50,185.86 L79.00,185.86 L79.50,185.85 L80.00,185.85 L80.50,185.85 L81.00,185.85 L81.50,185.84 L82.00,185.84 L82.50,185.84 L83.00,185.83 L83.50,185.83 L84.00,185.83 L84.50,185.83 L85.00,185.82 L85.50,185.82 L86.00,185.82 L86.50,185.81 L87.00,185.81 L87.50,185.81 L88.00,185.81 L88.50,185.80 L89.00,185.80 L89.50,185.80 L90.00,185.80 L90.50,185.79 L91.00,185.79 L91.50,185.79 L92.00,185.78 L92.50,185.78 L93.00,185.78 L93.50,185.78 L94.00,185.77 L94.50,185.77 L95.00,185.77 L95.50,185.76 L96.00,185.76 L96.50,185.76 L97.00,185.76 L97.50,185.75 L98.00,185.75 L98.50,185.75 L99.00,185.74 L99.50,185.74 L100.00,185.74 L100.50,185.74 L101.00,185.73 L101.50,185.73 L102.00,185.73 L102.50,185.72 L103.00,185.72 L103.50,185.72 L104.00,185.72 L104.50,185.71 L105.00,185.71 L105.50,185.71 L106.00,185.70 L106.50,185.70 L107.00,185.70 L107.50,185.70 L108.00,185.69 L108.50,185.69 L109.00,185.69 L109.50,185.68 L110.00,185.68 L110.50,185.68 L111.00,185.68 L111.50,185.67 L112.00,185.67 L112.50,185.67 L113.00,185.66 L113.50,185.66 L114.00,185.66 L114.50,185.66 L115.00,185.65 L115.50,185.65 L116.00,185.65 L116.50,185.64 L117.00,185.64 L117.50,185.64 L118.00,185.64 L118.50,185.63 L119.00,185.63 L119.50,185.63 L120.00,185.62 L120.50,185.62 L121.00,185.62 L121.50,185.62 L122.00,185.61 L122.50,185.61 L123.00,185.61 L123.50,185.61 L124.00,185.60 L124.40,185.63 L124.90,185.14 L125.40,184.66 L125.90,184.18 L126.40,183.70 L126.90,183.23 L127.40,182.76 L127.90,182.30 L128.40,181.84 L128.90,181.38 L129.40,180.93 L129.90,180.48 L130.40,180.04 L130.90,179.60 L131.40,179.17 L131.90,178.74 L132.40,178.31 L132.90,177.89 L133.40,177.47 L133.90,177.06 L134.40,176.65 L134.90,176.24 L135.40,175.84 L135.90,175.45 L136.40,175.05 L136.90,174.66 L137.40,174.28 L137.90,173.90 L138.40,173.52 L138.90,173.15 L139.40,172.78 L139.90,172.41 L140.40,172.05 L140.90,171.69 L141.40,171.34 L141.90,170.99 L142.40,170.65 L142.90,170.30 L143.40,169.97 L143.90,169.63 L144.40,169.30 L144.90,168.98 L145.40,168.65 L145.90,168.34 L146.40,168.02 L146.90,167.71 L147.40,167.40 L147.90,167.10 L148.40,166.80 L148.90,166.50 L149.40,166.21 L149.90,165.92 L150.40,165.64 L150.90,165.36 L151.40,165.08 L151.90,164.81 L152.40,164.54 L152.90,164.27 L153.40,164.01 L153.90,163.75 L154.40,163.50 L154.90,163.25 L155.40,163.00 L155.90,162.75 L156.40,162.51 L156.90,162.28 L157.40,162.04 L157.90,161.81 L158.40,161.59 L158.90,161.36 L159.40,161.15 L159.90,160.93 L160.40,160.72 L160.90,160.51 L161.40,160.30 L161.90,160.10 L162.40,159.90 L162.90,159.71 L163.40,159.52 L163.90,159.33 L164.40,159.15 L164.90,158.96 L165.40,158.79 L165.90,158.61 L166.40,158.44 L166.90,158.27 L167.40,158.11 L167.90,157.95 L168.40,157.79 L168.90,157.64 L169.40,157.49 L169.90,157.34 L170.40,157.19 L170.90,157.05 L171.40,156.91 L171.90,156.78 L172.40,156.65 L172.90,156.52 L173.40,156.39 L173.90,156.27 L174.10,156.20 L174.60,155.63 L175.10,155.08 L175.60,154.53 L176.10,153.99 L176.60,153.46 L177.10,152.94 L177.60,152.44 L178.10,151.94 L178.60,151.45 L179.10,150.97 L179.60,150.50 L180.10,150.04 L180.60,149.59 L181.10,149.15 L181.60,148.71 L182.10,148.29 L182.60,147.87 L183.10,147.46 L183.60,147.06 L184.10,146.67 L184.60,146.29 L185.10,145.91 L185.60,145.54 L186.10,145.18 L186.60,144.83 L187.10,144.48 L187.60,144.14 L188.10,143.81 L188.60,143.48 L189.10,143.16 L189.60,142.85 L190.10,142.54 L190.60,142.24 L191.10,141.94 L191.60,141.65 L192.10,141.37 L192.60,141.09 L193.10,140.82 L193.60,140.55 L194.10,140.29 L194.60,140.04 L195.10,139.78 L195.60,139.54 L196.10,139.30 L196.60,139.06 L197.10,138.82 L197.60,138.59 L198.10,138.37 L198.60,138.15 L199.10,137.93 L199.60,137.71 L200.10,137.50 L200.60,137.30 L201.10,137.09 L201.60,136.89 L202.10,136.69 L202.60,136.50 L203.10,136.30 L203.60,136.11 L204.10,135.92 L204.60,135.74 L205.10,135.55 L205.60,135.37 L205.80,135.32 L206.30,134.82 L206.80,134.32 L207.30,133.83 L207.80,133.35 L208.30,132.88 L208.80,132.41 L209.30,131.96 L209.80,131.50 L210.30,131.06 L210.80,130.62 L211.30,130.19 L211.80,129.77 L212.30,129.35 L212.80,128.94 L213.30,128.54 L213.80,128.14 L214.30,127.75 L214.80,127.37 L215.30,127.00 L215.80,126.63 L216.30,126.27 L216.80,125.92 L217.30,125.57 L217.80,125.23 L218.30,124.90 L218.80,124.57 L219.30,124.25 L219.80,123.94 L220.30,123.64 L220.80,123.34 L221.30,123.05 L221.80,122.76 L222.30,122.49 L222.80,122.21 L223.30,121.95 L223.80,121.69 L224.30,121.44 L224.80,121.20 L225.30,120.97 L225.80,120.74 L226.30,120.51 L226.80,120.30 L227.30,120.09 L227.80,119.89 L228.30,119.69 L228.80,119.50 L229.30,119.32 L229.80,119.15 L230.20,119.03 L230.70,118.49 L231.20,117.96 L231.70,117.46 L232.20,116.97 L232.70,116.49 L233.20,116.04 L233.70,115.60 L234.20,115.17 L234.70,114.77 L235.20,114.38 L235.70,114.00 L236.20,113.64 L236.70,113.30 L237.20,112.97 L237.70,112.66 L238.20,112.36 L238.70,112.08 L239.20,111.81 L239.70,111.56 L240.20,111.32 L240.70,111.10 L241.20,110.90 L241.70,110.70 L242.20,110.53 L242.70,110.37 L243.20,110.22 L243.70,110.08 L244.20,109.97 L244.70,109.86 L245.20,109.77 L245.70,109.69 L246.20,109.63 L246.70,109.58 L247.20,109.55 L247.70,109.52 L248.20,109.52 L248.70,109.52 L249.20,109.54 L249.70,109.57 L250.20,109.62 L250.70,109.68 L251.20,109.75 L251.70,109.83 L252.20,109.93 L252.70,110.04 L253.20,110.16 L253.70,110.29 L254.20,110.44 L254.70,110.60 L255.20,110.77 L255.70,110.95 L256.20,111.15 L256.70,111.35 L257.20,111.57 L257.70,111.80 L258.20,112.04 L258.70,112.30 L259.20,112.56 L259.70,112.84 L260.20,113.12 L260.70,113.42 L261.20,113.73 L261.70,114.05 L262.20,114.38 L262.70,114.72 L263.20,115.07 L263.70,115.43 L264.20,115.81 L264.70,116.19 L265.20,116.58 L265.70,116.99 L266.20,117.40 L266.70,117.82 L267.20,118.25 L267.70,118.70 L268.20,119.15 L268.70,119.61 L269.20,120.08 L269.70,120.56 L270.20,121.05 L270.70,121.55 L271.20,122.06 L271.70,122.57 L272.20,123.10 L272.70,123.63 L273.20,124.17 L273.70,124.72 L274.20,125.28 L274.70,125.85 L275.20,126.43 L275.70,127.01 L276.20,127.60 L276.70,128.20 L277.20,128.81 L277.70,129.42 L278.20,130.05 L278.70,130.68 L279.20,131.31 L279.70,131.96 L280.20,132.61 L280.70,133.26 L281.20,133.92 L281.70,134.59 L282.20,135.26 L282.70,135.94 L283.20,136.62 L283.70,137.31 L284.20,138.00 L284.70,138.70 L285.20,139.40 L285.70,140.11 L286.20,140.81 L286.70,141.52 L287.20,142.24 L287.70,142.95 L288.20,143.67 L288.70,144.39 L289.20,145.12 L289.70,145.84 L290.20,146.57 L290.70,147.30 L291.20,148.03 L291.70,148.76 L292.20,149.49 L292.70,150.22 L293.20,150.95 L293.70,151.68 L294.20,152.41 L294.70,153.14 L295.20,153.86 L295.70,154.59 L296.20,155.32 L296.70,156.04 L297.20,156.76 L297.70,157.48 L298.20,158.20 L298.70,158.91 L299.20,159.62 L299.70,160.33 L300.20,161.04 L300.70,161.74 L301.20,162.44 L301.70,163.13 L302.20,163.82 L302.70,164.51 L303.20,165.19 L303.70,165.86 L304.20,166.54 L304.70,167.21 L305.20,167.87 L305.70,168.53 L306.20,169.19 L306.70,169.84 L307.20,170.49 L307.70,171.13 L308.20,171.77 L308.70,172.40 L309.20,173.03 L309.70,173.66 L310.20,174.28 L310.70,174.89 L311.20,175.51 L311.70,176.11 L312.20,176.71 L312.70,177.31 L313.20,177.90 L313.70,178.49 L314.20,179.07 L314.70,179.65 L315.20,180.22 L315.70,180.78 L316.20,181.35 L316.70,181.90 L317.20,182.45 L317.70,183.00 L318.20,183.54 L318.70,184.08 L319.20,184.61 L319.70,185.13 L320.20,185.65 L320.70,186.16 L321.20,186.67 L321.70,187.17 L322.20,187.67 L322.70,188.16 L323.20,188.65 L323.70,189.13 L324.20,189.60 L324.70,190.07 L325.20,190.54 L325.70,190.99 L326.20,191.45 L326.70,191.90 L327.20,192.34 L327.70,192.78 L328.20,193.21 L328.70,193.64 L329.20,194.06 L329.70,194.48 L330.20,194.89 L330.70,195.29 L331.20,195.70 L331.70,196.09 L332.20,196.49 L332.70,196.87 L333.20,197.26 L333.70,197.63 L334.20,198.01 L334.70,198.38 L335.20,198.74 L335.70,199.10 L336.20,199.45 L336.70,199.80 L337.20,200.15 L337.70,200.49 L338.20,200.82 L338.70,201.15 L339.20,201.48 L339.70,201.80 L340.20,202.12 L340.70,202.44 L341.20,202.75 L341.70,203.05 L342.20,203.35 L342.70,203.65 L343.20,203.94 L343.70,204.23 L344.20,204.51 L344.70,204.79 L345.20,205.07 L345.70,205.34 L346.20,205.61 L346.70,205.87 L347.20,206.13 L347.70,206.39 L348.20,206.64 L348.70,206.89 L349.20,207.14 L349.70,207.38 L350.20,207.62 L350.70,207.85 L351.20,208.08 L351.70,208.31 L352.20,208.53 L352.70,208.75 L353.20,208.96 L353.70,209.18 L354.20,209.38 L354.70,209.59 L355.20,209.79 L355.70,209.99 L356.20,210.19 L356.70,210.38 L357.20,210.57 L357.70,210.75 L358.20,210.93 L358.70,211.11 L359.20,211.29 L359.70,211.46 L360.20,211.63 L360.70,211.80 L361.20,211.96 L361.70,212.12 L362.20,212.28 L362.70,212.44 L363.20,212.59 L363.70,212.74 L364.20,212.88 L364.70,213.03 L365.20,213.17 L365.70,213.31 L366.20,213.44 L366.70,213.58 L367.20,213.71 L367.70,213.83 L368.20,213.96 L368.70,214.08 L369.20,214.20 L369.70,214.32 L370.20,214.44 L370.70,214.55 L371.20,214.66 L371.70,214.77 L372.20,214.88 L372.70,214.98 L373.20,215.08 L373.70,215.18 L374.20,215.28 L374.70,215.37 L375.20,215.47 L375.70,215.56 L376.20,215.65 L376.70,215.73 L377.20,215.82 L377.70,215.90 L378.20,215.98 L378.70,216.06 L379.20,216.13 L379.70,216.21 L380.20,216.28 L380.70,216.35 L381.20,216.41 L381.70,216.48 L382.20,216.54 L382.70,216.60 L383.20,216.66 L383.70,216.71 L384.20,216.76 L384.70,216.81 L385.20,216.86 L385.70,216.91 L386.20,216.95 L386.70,216.99 L387.20,217.03 L387.70,217.07 L388.20,217.11 L388.70,217.14 L389.20,217.17 L389.70,217.20 L390.20,217.22 L390.70,217.24 L391.20,217.26 L391.70,217.28 L392.20,217.30 L392.70,217.31 L393.20,217.32 L393.70,217.33 L394.20,217.34 L394.70,217.34 L395.20,217.34 L395.70,217.34 L396.20,217.34 L396.70,217.33 L397.20,217.32 L397.70,217.31 L398.20,217.30 L398.70,217.29 L399.20,217.27 L399.70,217.25 L400.20,217.22 L400.70,217.20 L401.20,217.17 L401.70,217.14 L402.20,217.11 L402.70,217.07 L403.20,217.03 L403.70,216.99 L404.20,216.95 L404.70,216.91 L405.20,216.86 L405.70,216.81 L406.20,216.76 L406.70,216.70 L407.20,216.64 L407.70,216.58 L408.20,216.52 L408.70,216.45 L409.20,216.39 L409.70,216.31 L410.20,216.24 L410.70,216.17 L411.20,216.09 L411.70,216.01 L412.20,215.92 L412.70,215.84 L413.20,215.75 L413.70,215.66 L414.20,215.56 L414.70,215.47 L415.20,215.37 L415.70,215.27 L416.20,215.16 L416.70,215.06 L417.20,214.95 L417.70,214.84 L418.20,214.73 L418.70,214.62 L419.20,214.51 L419.70,214.39 L420.20,214.27 L420.70,214.15 L421.20,214.03 L421.70,213.91 L422.20,213.79 L422.70,213.66 L423.20,213.54 L423.70,213.41 L424.20,213.29 L424.70,213.16 L425.20,213.03 L425.70,212.90 L426.20,212.77 L426.70,212.64 L427.20,212.51 L427.70,212.37 L428.20,212.24 L428.70,212.11 L429.20,211.98 L429.70,211.84 L430.20,211.71 L430.70,211.58 L431.20,211.45 L431.70,211.31 L432.20,211.18 L432.70,211.05 L433.20,210.92 L433.70,210.79 L434.20,210.66 L434.70,210.53 L435.20,210.40 L435.70,210.27 L436.20,210.14 L436.70,210.01 L437.20,209.89 L437.70,209.76 L438.20,209.64 L438.70,209.52 L439.20,209.40 L439.70,209.28 L440.20,209.16 L440.70,209.04 L441.20,208.93 L441.70,208.81 L442.20,208.70 L442.70,208.59 L443.20,208.48 L443.70,208.38 L444.20,208.27 L444.70,208.17 L445.20,208.07 L445.70,207.97 L446.20,207.88 L446.70,207.78 L447.20,207.69 L447.70,207.61 L448.20,207.52 L448.70,207.44 L449.20,207.36 L449.70,207.28 L450.20,207.21 L450.70,207.14 L451.20,207.07 L451.70,207.01 L452.20,206.95 L452.50,206.90" stroke="#a01414" stroke-width="1.35"/>
<path clip-path="url(#cpb)" d="M71.50,185.75 L72.00,185.75 L72.50,185.75 L73.00,185.75 L73.50,185.75 L74.00,185.75 L74.50,185.75 L75.00,185.75 L75.50,185.75 L76.00,185.75 L76.50,185.75 L77.00,185.75 L77.50,185.75 L78.00,185.75 L78.50,185.75 L79.00,185.75 L79.50,185.75 L80.00,185.75 L80.50,185.75 L81.00,185.75 L81.50,185.75 L82.00,185.75 L82.50,185.75 L83.00,185.75 L83.50,185.75 L84.00,185.75 L84.50,185.75 L85.00,185.75 L85.50,185.75 L86.00,185.75 L86.50,185.75 L87.00,185.75 L87.50,185.75 L88.00,185.75 L88.50,185.75 L89.00,185.75 L89.50,185.75 L90.00,185.75 L90.50,185.75 L91.00,185.75 L91.50,185.75 L92.00,185.75 L92.50,185.75 L93.00,185.75 L93.50,185.75 L94.00,185.75 L94.50,185.75 L95.00,185.75 L95.50,185.75 L96.00,185.75 L96.50,185.75 L97.00,185.75 L97.50,185.75 L98.00,185.75 L98.50,185.75 L99.00,185.75 L99.50,185.75 L100.00,185.75 L100.50,185.75 L101.00,185.75 L101.50,185.75 L102.00,185.75 L102.50,185.75 L103.00,185.75 L103.50,185.75 L104.00,185.75 L104.50,185.75 L105.00,185.75 L105.50,185.75 L106.00,185.75 L106.50,185.75 L107.00,185.75 L107.50,185.75 L108.00,185.75 L108.50,185.75 L109.00,185.75 L109.50,185.75 L110.00,185.75 L110.50,185.75 L111.00,185.75 L111.50,185.75 L112.00,185.75 L112.50,185.75 L113.00,185.75 L113.50,185.75 L114.00,185.75 L114.50,185.75 L115.00,185.75 L115.50,185.75 L116.00,185.75 L116.50,185.75 L117.00,185.75 L117.50,185.75 L118.00,185.75 L118.50,185.75 L119.00,185.75 L119.50,185.75 L120.00,185.75 L120.50,185.75 L121.00,185.75 L121.50,185.75 L122.00,185.75 L122.50,185.75 L123.00,185.75 L123.50,185.75 L124.00,185.75 L124.40,185.75 L124.90,185.51 L125.40,185.26 L125.90,185.02 L126.40,184.78 L126.90,184.54 L127.40,184.31 L127.90,184.07 L128.40,183.84 L128.90,183.60 L129.40,183.37 L129.90,183.14 L130.40,182.91 L130.90,182.68 L131.40,182.45 L131.90,182.23 L132.40,182.00 L132.90,181.78 L133.40,181.55 L133.90,181.33 L134.40,181.11 L134.90,180.89 L135.40,180.67 L135.90,180.45 L136.40,180.23 L136.90,180.02 L137.40,179.80 L137.90,179.59 L138.40,179.37 L138.90,179.16 L139.40,178.95 L139.90,178.73 L140.40,178.52 L140.90,178.31 L141.40,178.10 L141.90,177.89 L142.40,177.69 L142.90,177.48 L143.40,177.27 L143.90,177.07 L144.40,176.86 L144.90,176.66 L145.40,176.45 L145.90,176.25 L146.40,176.05 L146.90,175.84 L147.40,175.64 L147.90,175.44 L148.40,175.24 L148.90,175.04 L149.40,174.84 L149.90,174.64 L150.40,174.44 L150.90,174.24 L151.40,174.04 L151.90,173.85 L152.40,173.65 L152.90,173.45 L153.40,173.25 L153.90,173.06 L154.40,172.86 L154.90,172.67 L155.40,172.47 L155.90,172.27 L156.40,172.08 L156.90,171.88 L157.40,171.69 L157.90,171.49 L158.40,171.30 L158.90,171.10 L159.40,170.91 L159.90,170.72 L160.40,170.52 L160.90,170.33 L161.40,170.13 L161.90,169.94 L162.40,169.74 L162.90,169.55 L163.40,169.35 L163.90,169.16 L164.40,168.97 L164.90,168.77 L165.40,168.58 L165.90,168.38 L166.40,168.19 L166.90,167.99 L167.40,167.79 L167.90,167.60 L168.40,167.40 L168.90,167.21 L169.40,167.01 L169.90,166.81 L170.40,166.62 L170.90,166.42 L171.40,166.22 L171.90,166.02 L172.40,165.82 L172.90,165.63 L173.40,165.43 L173.90,165.23 L174.10,165.15 L174.60,164.85 L175.10,164.55 L175.60,164.24 L176.10,163.94 L176.60,163.64 L177.10,163.34 L177.60,163.04 L178.10,162.74 L178.60,162.44 L179.10,162.14 L179.60,161.84 L180.10,161.54 L180.60,161.24 L181.10,160.94 L181.60,160.64 L182.10,160.34 L182.60,160.04 L183.10,159.74 L183.60,159.45 L184.10,159.15 L184.60,158.85 L185.10,158.55 L185.60,158.26 L186.10,157.96 L186.60,157.67 L187.10,157.37 L187.60,157.08 L188.10,156.78 L188.60,156.49 L189.10,156.20 L189.60,155.90 L190.10,155.61 L190.60,155.32 L191.10,155.03 L191.60,154.74 L192.10,154.45 L192.60,154.16 L193.10,153.87 L193.60,153.58 L194.10,153.29 L194.60,153.01 L195.10,152.72 L195.60,152.43 L196.10,152.15 L196.60,151.86 L197.10,151.58 L197.60,151.30 L198.10,151.01 L198.60,150.73 L199.10,150.45 L199.60,150.17 L200.10,149.89 L200.60,149.61 L201.10,149.33 L201.60,149.05 L202.10,148.78 L202.60,148.50 L203.10,148.22 L203.60,147.95 L204.10,147.68 L204.60,147.40 L205.10,147.13 L205.60,146.86 L205.80,146.75 L206.30,146.46 L206.80,146.17 L207.30,145.87 L207.80,145.57 L208.30,145.27 L208.80,144.97 L209.30,144.67 L209.80,144.36 L210.30,144.05 L210.80,143.74 L211.30,143.43 L211.80,143.12 L212.30,142.80 L212.80,142.49 L213.30,142.18 L213.80,141.87 L214.30,141.55 L214.80,141.24 L215.30,140.93 L215.80,140.62 L216.30,140.31 L216.80,140.00 L217.30,139.70 L217.80,139.39 L218.30,139.09 L218.80,138.79 L219.30,138.49 L219.80,138.20 L220.30,137.91 L220.80,137.62 L221.30,137.34 L221.80,137.06 L222.30,136.78 L222.80,136.51 L223.30,136.25 L223.80,135.98 L224.30,135.73 L224.80,135.47 L225.30,135.23 L225.80,134.99 L226.30,134.75 L226.80,134.52 L227.30,134.30 L227.80,134.09 L228.30,133.88 L228.80,133.68 L229.30,133.48 L229.80,133.30 L230.20,133.22 L230.70,132.86 L231.20,132.50 L231.70,132.15 L232.20,131.80 L232.70,131.46 L233.20,131.13 L233.70,130.81 L234.20,130.50 L234.70,130.19 L235.20,129.89 L235.70,129.60 L236.20,129.32 L236.70,129.04 L237.20,128.77 L237.70,128.51 L238.20,128.25 L238.70,128.00 L239.20,127.76 L239.70,127.53 L240.20,127.30 L240.70,127.08 L241.20,126.87 L241.70,126.66 L242.20,126.46 L242.70,126.27 L243.20,126.09 L243.70,125.91 L244.20,125.74 L244.70,125.57 L245.20,125.42 L245.70,125.27 L246.20,125.12 L246.70,124.99 L247.20,124.86 L247.70,124.73 L248.20,124.62 L248.70,124.51 L249.20,124.41 L249.70,124.31 L250.20,124.22 L250.70,124.14 L251.20,124.06 L251.70,123.99 L252.20,123.93 L252.70,123.87 L253.20,123.82 L253.70,123.78 L254.20,123.74 L254.70,123.71 L255.20,123.68 L255.70,123.66 L256.20,123.65 L256.70,123.65 L257.20,123.65 L257.70,123.65 L258.20,123.66 L258.70,123.68 L259.20,123.71 L259.70,123.74 L260.20,123.78 L260.70,123.82 L261.20,123.87 L261.70,123.92 L262.20,123.99 L262.70,124.05 L263.20,124.13 L263.70,124.21 L264.20,124.29 L264.70,124.38 L265.20,124.48 L265.70,124.58 L266.20,124.69 L266.70,124.80 L267.20,124.92 L267.70,125.05 L268.20,125.18 L268.70,125.32 L269.20,125.46 L269.70,125.61 L270.20,125.76 L270.70,125.92 L271.20,126.08 L271.70,126.25 L272.20,126.43 L272.70,126.61 L273.20,126.80 L273.70,126.99 L274.20,127.18 L274.70,127.39 L275.20,127.59 L275.70,127.81 L276.20,128.03 L276.70,128.25 L277.20,128.48 L277.70,128.71 L278.20,128.95 L278.70,129.20 L279.20,129.44 L279.70,129.70 L280.20,129.96 L280.70,130.22 L281.20,130.49 L281.70,130.77 L282.20,131.05 L282.70,131.33 L283.20,131.62 L283.70,131.91 L284.20,132.21 L284.70,132.51 L285.20,132.82 L285.70,133.14 L286.20,133.45 L286.70,133.78 L287.20,134.10 L287.70,134.43 L288.20,134.77 L288.70,135.11 L289.20,135.45 L289.70,135.80 L290.20,136.15 L290.70,136.51 L291.20,136.87 L291.70,137.23 L292.20,137.60 L292.70,137.97 L293.20,138.34 L293.70,138.72 L294.20,139.10 L294.70,139.49 L295.20,139.88 L295.70,140.27 L296.20,140.67 L296.70,141.07 L297.20,141.47 L297.70,141.87 L298.20,142.28 L298.70,142.69 L299.20,143.11 L299.70,143.52 L300.20,143.94 L300.70,144.36 L301.20,144.79 L301.70,145.22 L302.20,145.65 L302.70,146.08 L303.20,146.51 L303.70,146.95 L304.20,147.39 L304.70,147.83 L305.20,148.28 L305.70,148.72 L306.20,149.17 L306.70,149.62 L307.20,150.07 L307.70,150.52 L308.20,150.98 L308.70,151.44 L309.20,151.89 L309.70,152.35 L310.20,152.81 L310.70,153.28 L311.20,153.74 L311.70,154.21 L312.20,154.67 L312.70,155.14 L313.20,155.61 L313.70,156.08 L314.20,156.55 L314.70,157.02 L315.20,157.49 L315.70,157.97 L316.20,158.44 L316.70,158.91 L317.20,159.39 L317.70,159.86 L318.20,160.34 L318.70,160.82 L319.20,161.29 L319.70,161.77 L320.20,162.25 L320.70,162.72 L321.20,163.20 L321.70,163.68 L322.20,164.15 L322.70,164.63 L323.20,165.11 L323.70,165.58 L324.20,166.06 L324.70,166.53 L325.20,167.01 L325.70,167.48 L326.20,167.95 L326.70,168.43 L327.20,168.90 L327.70,169.37 L328.20,169.84 L328.70,170.31 L329.20,170.78 L329.70,171.25 L330.20,171.71 L330.70,172.18 L331.20,172.64 L331.70,173.10 L332.20,173.56 L332.70,174.02 L333.20,174.48 L333.70,174.94 L334.20,175.40 L334.70,175.85 L335.20,176.30 L335.70,176.75 L336.20,177.20 L336.70,177.65 L337.20,178.09 L337.70,178.54 L338.20,178.98 L338.70,179.42 L339.20,179.86 L339.70,180.29 L340.20,180.73 L340.70,181.16 L341.20,181.59 L341.70,182.02 L342.20,182.44 L342.70,182.87 L343.20,183.29 L343.70,183.71 L344.20,184.12 L344.70,184.54 L345.20,184.95 L345.70,185.36 L346.20,185.77 L346.70,186.17 L347.20,186.57 L347.70,186.97 L348.20,187.37 L348.70,187.76 L349.20,188.15 L349.70,188.54 L350.20,188.93 L350.70,189.31 L351.20,189.69 L351.70,190.07 L352.20,190.44 L352.70,190.81 L353.20,191.18 L353.70,191.54 L354.20,191.90 L354.70,192.26 L355.20,192.62 L355.70,192.97 L356.20,193.31 L356.70,193.66 L357.20,194.00 L357.70,194.34 L358.20,194.67 L358.70,195.00 L359.20,195.33 L359.70,195.65 L360.20,195.97 L360.70,196.29 L361.20,196.60 L361.70,196.91 L362.20,197.21 L362.70,197.51 L363.20,197.81 L363.70,198.10 L364.20,198.39 L364.70,198.68 L365.20,198.96 L365.70,199.23 L366.20,199.50 L366.70,199.77 L367.20,200.04 L367.70,200.29 L368.20,200.55 L368.70,200.80 L369.20,201.05 L369.70,201.29 L370.20,201.52 L370.70,201.76 L371.20,201.98 L371.70,202.21 L372.20,202.43 L372.70,202.64 L373.20,202.85 L373.70,203.05 L374.20,203.25 L374.70,203.45 L375.20,203.64 L375.70,203.82 L376.20,204.00 L376.70,204.18 L377.20,204.35 L377.70,204.51 L378.20,204.68 L378.70,204.83 L379.20,204.99 L379.70,205.13 L380.20,205.28 L380.70,205.42 L381.20,205.55 L381.70,205.68 L382.20,205.81 L382.70,205.93 L383.20,206.05 L383.70,206.16 L384.20,206.27 L384.70,206.38 L385.20,206.48 L385.70,206.58 L386.20,206.67 L386.70,206.76 L387.20,206.84 L387.70,206.93 L388.20,207.00 L388.70,207.08 L389.20,207.15 L389.70,207.21 L390.20,207.27 L390.70,207.33 L391.20,207.39 L391.70,207.44 L392.20,207.49 L392.70,207.53 L393.20,207.57 L393.70,207.61 L394.20,207.64 L394.70,207.67 L395.20,207.70 L395.70,207.72 L396.20,207.74 L396.70,207.76 L397.20,207.77 L397.70,207.78 L398.20,207.79 L398.70,207.79 L399.20,207.80 L399.70,207.79 L400.20,207.79 L400.70,207.78 L401.20,207.77 L401.70,207.75 L402.20,207.74 L402.70,207.72 L403.20,207.69 L403.70,207.67 L404.20,207.64 L404.70,207.61 L405.20,207.57 L405.70,207.54 L406.20,207.50 L406.70,207.45 L407.20,207.41 L407.70,207.36 L408.20,207.31 L408.70,207.26 L409.20,207.21 L409.70,207.15 L410.20,207.09 L410.70,207.03 L411.20,206.96 L411.70,206.90 L412.20,206.83 L412.70,206.76 L413.20,206.68 L413.70,206.61 L414.20,206.53 L414.70,206.45 L415.20,206.37 L415.70,206.29 L416.20,206.20 L416.70,206.11 L417.20,206.03 L417.70,205.93 L418.20,205.84 L418.70,205.75 L419.20,205.65 L419.70,205.55 L420.20,205.45 L420.70,205.35 L421.20,205.25 L421.70,205.14 L422.20,205.04 L422.70,204.93 L423.20,204.82 L423.70,204.71 L424.20,204.60 L424.70,204.48 L425.20,204.37 L425.70,204.25 L426.20,204.13 L426.70,204.02 L427.20,203.90 L427.70,203.77 L428.20,203.65 L428.70,203.53 L429.20,203.40 L429.70,203.28 L430.20,203.15 L430.70,203.02 L431.20,202.90 L431.70,202.77 L432.20,202.64 L432.70,202.51 L433.20,202.37 L433.70,202.24 L434.20,202.11 L434.70,201.97 L435.20,201.84 L435.70,201.70 L436.20,201.57 L436.70,201.43 L437.20,201.29 L437.70,201.16 L438.20,201.02 L438.70,200.88 L439.20,200.74 L439.70,200.60 L440.20,200.46 L440.70,200.32 L441.20,200.18 L441.70,200.04 L442.20,199.90 L442.70,199.76 L443.20,199.62 L443.70,199.48 L444.20,199.34 L444.70,199.20 L445.20,199.06 L445.70,198.91 L446.20,198.77 L446.70,198.63 L447.20,198.49 L447.70,198.35 L448.20,198.21 L448.70,198.07 L449.20,197.93 L449.70,197.79 L450.20,197.65 L450.70,197.52 L451.20,197.38 L451.70,197.24 L452.20,197.10 L452.50,197.05" stroke="#1a1aff" stroke-width="1.35" stroke-dasharray="1.25 1.95"/>
<path clip-path="url(#cpc)" d="M71.50,292.40 L72.00,292.40 L72.50,292.40 L73.00,292.40 L73.50,292.40 L74.00,292.40 L74.50,292.39 L75.00,292.39 L75.50,292.39 L76.00,292.39 L76.50,292.39 L77.00,292.39 L77.50,292.39 L78.00,292.39 L78.50,292.39 L79.00,292.39 L79.50,292.38 L80.00,292.38 L80.50,292.38 L81.00,292.38 L81.50,292.38 L82.00,292.38 L82.50,292.38 L83.00,292.38 L83.50,292.38 L84.00,292.38 L84.50,292.38 L85.00,292.37 L85.50,292.37 L86.00,292.37 L86.50,292.37 L87.00,292.37 L87.50,292.37 L88.00,292.37 L88.50,292.37 L89.00,292.37 L89.50,292.37 L90.00,292.37 L90.50,292.36 L91.00,292.36 L91.50,292.36 L92.00,292.36 L92.50,292.36 L93.00,292.36 L93.50,292.36 L94.00,292.36 L94.50,292.36 L95.00,292.36 L95.50,292.35 L96.00,292.35 L96.50,292.35 L97.00,292.35 L97.50,292.35 L98.00,292.35 L98.50,292.35 L99.00,292.35 L99.50,292.35 L100.00,292.35 L100.50,292.35 L101.00,292.34 L101.50,292.34 L102.00,292.34 L102.50,292.34 L103.00,292.34 L103.50,292.34 L104.00,292.34 L104.50,292.34 L105.00,292.34 L105.50,292.34 L106.00,292.33 L106.50,292.33 L107.00,292.33 L107.50,292.33 L108.00,292.33 L108.50,292.33 L109.00,292.33 L109.50,292.33 L110.00,292.33 L110.50,292.33 L111.00,292.33 L111.50,292.32 L112.00,292.32 L112.50,292.32 L113.00,292.32 L113.50,292.32 L114.00,292.32 L114.50,292.32 L115.00,292.32 L115.50,292.32 L116.00,292.32 L116.50,292.31 L117.00,292.31 L117.50,292.31 L118.00,292.31 L118.50,292.31 L119.00,292.31 L119.50,292.31 L120.00,292.31 L120.50,292.31 L121.00,292.31 L121.50,292.31 L122.00,292.30 L122.50,292.30 L123.00,292.30 L123.50,292.30 L124.00,292.30 L124.40,292.30 L124.90,292.26 L125.40,292.21 L125.90,292.17 L126.40,292.13 L126.90,292.08 L127.40,292.04 L127.90,292.00 L128.40,291.96 L128.90,291.93 L129.40,291.89 L129.90,291.85 L130.40,291.82 L130.90,291.78 L131.40,291.75 L131.90,291.71 L132.40,291.68 L132.90,291.65 L133.40,291.62 L133.90,291.59 L134.40,291.56 L134.90,291.53 L135.40,291.51 L135.90,291.48 L136.40,291.46 L136.90,291.43 L137.40,291.41 L137.90,291.39 L138.40,291.37 L138.90,291.35 L139.40,291.33 L139.90,291.31 L140.40,291.29 L140.90,291.27 L141.40,291.26 L141.90,291.24 L142.40,291.23 L142.90,291.22 L143.40,291.21 L143.90,291.20 L144.40,291.19 L144.90,291.18 L145.40,291.17 L145.90,291.17 L146.40,291.16 L146.90,291.16 L147.40,291.16 L147.90,291.16 L148.40,291.16 L148.90,291.16 L149.40,291.16 L149.90,291.16 L150.40,291.17 L150.90,291.17 L151.40,291.18 L151.90,291.19 L152.40,291.19 L152.90,291.20 L153.40,291.21 L153.90,291.23 L154.40,291.24 L154.90,291.26 L155.40,291.27 L155.90,291.29 L156.40,291.31 L156.90,291.33 L157.40,291.35 L157.90,291.37 L158.40,291.39 L158.90,291.42 L159.40,291.44 L159.90,291.47 L160.40,291.50 L160.90,291.53 L161.40,291.56 L161.90,291.59 L162.40,291.63 L162.90,291.66 L163.40,291.70 L163.90,291.73 L164.40,291.77 L164.90,291.81 L165.40,291.85 L165.90,291.90 L166.40,291.94 L166.90,291.99 L167.40,292.03 L167.90,292.08 L168.40,292.13 L168.90,292.18 L169.40,292.24 L169.90,292.29 L170.40,292.35 L170.90,292.40 L171.40,292.46 L171.90,292.52 L172.40,292.58 L172.90,292.65 L173.40,292.71 L173.90,292.78 L174.10,292.80 L174.60,292.79 L175.10,292.77 L175.60,292.75 L176.10,292.74 L176.60,292.72 L177.10,292.70 L177.60,292.68 L178.10,292.66 L178.60,292.64 L179.10,292.62 L179.60,292.60 L180.10,292.58 L180.60,292.56 L181.10,292.54 L181.60,292.52 L182.10,292.50 L182.60,292.48 L183.10,292.46 L183.60,292.44 L184.10,292.42 L184.60,292.40 L185.10,292.38 L185.60,292.36 L186.10,292.34 L186.60,292.32 L187.10,292.30 L187.60,292.28 L188.10,292.26 L188.60,292.25 L189.10,292.23 L189.60,292.22 L190.10,292.20 L190.60,292.19 L191.10,292.18 L191.60,292.17 L192.10,292.16 L192.60,292.15 L193.10,292.14 L193.60,292.13 L194.10,292.13 L194.60,292.12 L195.10,292.12 L195.60,292.12 L196.10,292.12 L196.60,292.12 L197.10,292.13 L197.60,292.13 L198.10,292.14 L198.60,292.15 L199.10,292.16 L199.60,292.17 L200.10,292.18 L200.60,292.20 L201.10,292.22 L201.60,292.24 L202.10,292.26 L202.60,292.29 L203.10,292.31 L203.60,292.34 L204.10,292.37 L204.60,292.41 L205.10,292.44 L205.60,292.48 L205.80,292.50 L206.30,292.42 L206.80,292.34 L207.30,292.27 L207.80,292.19 L208.30,292.11 L208.80,292.03 L209.30,291.95 L209.80,291.88 L210.30,291.80 L210.80,291.72 L211.30,291.64 L211.80,291.56 L212.30,291.49 L212.80,291.41 L213.30,291.33 L213.80,291.25 L214.30,291.18 L214.80,291.10 L215.30,291.02 L215.80,290.95 L216.30,290.87 L216.80,290.80 L217.30,290.72 L217.80,290.65 L218.30,290.57 L218.80,290.50 L219.30,290.43 L219.80,290.35 L220.30,290.28 L220.80,290.21 L221.30,290.14 L221.80,290.07 L222.30,290.00 L222.80,289.93 L223.30,289.86 L223.80,289.79 L224.30,289.73 L224.80,289.66 L225.30,289.60 L225.80,289.53 L226.30,289.47 L226.80,289.40 L227.30,289.34 L227.80,289.28 L228.30,289.22 L228.80,289.16 L229.30,289.10 L229.80,289.05 L230.20,289.02 L230.70,288.83 L231.20,288.65 L231.70,288.47 L232.20,288.30 L232.70,288.13 L233.20,287.97 L233.70,287.81 L234.20,287.65 L234.70,287.50 L235.20,287.35 L235.70,287.20 L236.20,287.06 L236.70,286.92 L237.20,286.78 L237.70,286.65 L238.20,286.52 L238.70,286.40 L239.20,286.28 L239.70,286.16 L240.20,286.04 L240.70,285.93 L241.20,285.83 L241.70,285.72 L242.20,285.62 L242.70,285.52 L243.20,285.43 L243.70,285.33 L244.20,285.24 L244.70,285.16 L245.20,285.08 L245.70,284.99 L246.20,284.92 L246.70,284.84 L247.20,284.77 L247.70,284.70 L248.20,284.64 L248.70,284.57 L249.20,284.51 L249.70,284.45 L250.20,284.40 L250.70,284.35 L251.20,284.30 L251.70,284.25 L252.20,284.20 L252.70,284.16 L253.20,284.12 L253.70,284.08 L254.20,284.04 L254.70,284.01 L255.20,283.98 L255.70,283.95 L256.20,283.92 L256.70,283.90 L257.20,283.87 L257.70,283.85 L258.20,283.83 L258.70,283.82 L259.20,283.80 L259.70,283.79 L260.20,283.78 L260.70,283.77 L261.20,283.76 L261.70,283.75 L262.20,283.75 L262.70,283.75 L263.20,283.74 L263.70,283.74 L264.20,283.75 L264.70,283.75 L265.20,283.75 L265.70,283.76 L266.20,283.77 L266.70,283.78 L267.20,283.79 L267.70,283.80 L268.20,283.81 L268.70,283.83 L269.20,283.84 L269.70,283.86 L270.20,283.87 L270.70,283.89 L271.20,283.91 L271.70,283.93 L272.20,283.95 L272.70,283.98 L273.20,284.00 L273.70,284.02 L274.20,284.05 L274.70,284.07 L275.20,284.10 L275.70,284.12 L276.20,284.15 L276.70,284.18 L277.20,284.21 L277.70,284.24 L278.20,284.27 L278.70,284.29 L279.20,284.32 L279.70,284.35 L280.20,284.38 L280.70,284.41 L281.20,284.44 L281.70,284.47 L282.20,284.50 L282.70,284.53 L283.20,284.56 L283.70,284.59 L284.20,284.62 L284.70,284.65 L285.20,284.68 L285.70,284.71 L286.20,284.74 L286.70,284.76 L287.20,284.79 L287.70,284.82 L288.20,284.84 L288.70,284.87 L289.20,284.89 L289.70,284.92 L290.20,284.94 L290.70,284.96 L291.20,284.98 L291.70,285.00 L292.20,285.02 L292.70,285.04 L293.20,285.05 L293.70,285.07 L294.20,285.08 L294.70,285.10 L295.20,285.11 L295.70,285.12 L296.20,285.13 L296.70,285.13 L297.20,285.14 L297.70,285.14 L298.20,285.15 L298.70,285.15 L299.20,285.14 L299.70,285.14 L300.20,285.14 L300.70,285.13 L301.20,285.12 L301.70,285.11 L302.20,285.10 L302.70,285.08 L303.20,285.07 L303.70,285.05 L304.20,285.03 L304.70,285.01 L305.20,284.98 L305.70,284.96 L306.20,284.93 L306.70,284.90 L307.20,284.87 L307.70,284.84 L308.20,284.80 L308.70,284.77 L309.20,284.73 L309.70,284.69 L310.20,284.65 L310.70,284.61 L311.20,284.57 L311.70,284.52 L312.20,284.47 L312.70,284.43 L313.20,284.38 L313.70,284.33 L314.20,284.28 L314.70,284.22 L315.20,284.17 L315.70,284.11 L316.20,284.06 L316.70,284.00 L317.20,283.94 L317.70,283.88 L318.20,283.82 L318.70,283.76 L319.20,283.69 L319.70,283.63 L320.20,283.56 L320.70,283.50 L321.20,283.43 L321.70,283.36 L322.20,283.30 L322.70,283.23 L323.20,283.16 L323.70,283.09 L324.20,283.02 L324.70,282.94 L325.20,282.87 L325.70,282.80 L326.20,282.72 L326.70,282.65 L327.20,282.57 L327.70,282.50 L328.20,282.42 L328.70,282.35 L329.20,282.27 L329.70,282.19 L330.20,282.12 L330.70,282.04 L331.20,281.96 L331.70,281.88 L332.20,281.80 L332.70,281.73 L333.20,281.65 L333.70,281.57 L334.20,281.49 L334.70,281.41 L335.20,281.33 L335.70,281.25 L336.20,281.17 L336.70,281.09 L337.20,281.01 L337.70,280.93 L338.20,280.86 L338.70,280.78 L339.20,280.70 L339.70,280.62 L340.20,280.54 L340.70,280.46 L341.20,280.38 L341.70,280.31 L342.20,280.23 L342.70,280.15 L343.20,280.07 L343.70,280.00 L344.20,279.92 L344.70,279.84 L345.20,279.77 L345.70,279.69 L346.20,279.62 L346.70,279.54 L347.20,279.47 L347.70,279.39 L348.20,279.32 L348.70,279.25 L349.20,279.17 L349.70,279.10 L350.20,279.03 L350.70,278.96 L351.20,278.89 L351.70,278.82 L352.20,278.75 L352.70,278.68 L353.20,278.61 L353.70,278.55 L354.20,278.48 L354.70,278.41 L355.20,278.35 L355.70,278.28 L356.20,278.22 L356.70,278.16 L357.20,278.10 L357.70,278.04 L358.20,277.98 L358.70,277.92 L359.20,277.86 L359.70,277.80 L360.20,277.75 L360.70,277.69 L361.20,277.64 L361.70,277.58 L362.20,277.53 L362.70,277.48 L363.20,277.43 L363.70,277.38 L364.20,277.33 L364.70,277.28 L365.20,277.24 L365.70,277.19 L366.20,277.15 L366.70,277.11 L367.20,277.07 L367.70,277.03 L368.20,276.99 L368.70,276.95 L369.20,276.92 L369.70,276.88 L370.20,276.85 L370.70,276.82 L371.20,276.79 L371.70,276.76 L372.20,276.73 L372.70,276.71 L373.20,276.68 L373.70,276.66 L374.20,276.64 L374.70,276.62 L375.20,276.60 L375.70,276.58 L376.20,276.57 L376.70,276.55 L377.20,276.54 L377.70,276.53 L378.20,276.52 L378.70,276.51 L379.20,276.51 L379.70,276.51 L380.20,276.50 L380.70,276.50 L381.20,276.51 L381.70,276.51 L382.20,276.52 L382.70,276.52 L383.20,276.53 L383.70,276.54 L384.20,276.56 L384.70,276.57 L385.20,276.59 L385.70,276.61 L386.20,276.63 L386.70,276.65 L387.20,276.68 L387.70,276.70 L388.20,276.73 L388.70,276.76 L389.20,276.80 L389.70,276.83 L390.20,276.87 L390.70,276.91 L391.20,276.95 L391.70,277.00 L392.20,277.04 L392.70,277.09 L393.20,277.14 L393.70,277.19 L394.20,277.25 L394.70,277.30 L395.20,277.36 L395.70,277.42 L396.20,277.48 L396.70,277.54 L397.20,277.61 L397.70,277.67 L398.20,277.74 L398.70,277.81 L399.20,277.88 L399.70,277.95 L400.20,278.03 L400.70,278.10 L401.20,278.18 L401.70,278.26 L402.20,278.34 L402.70,278.42 L403.20,278.50 L403.70,278.58 L404.20,278.67 L404.70,278.75 L405.20,278.84 L405.70,278.93 L406.20,279.02 L406.70,279.11 L407.20,279.20 L407.70,279.29 L408.20,279.39 L408.70,279.48 L409.20,279.58 L409.70,279.67 L410.20,279.77 L410.70,279.87 L411.20,279.96 L411.70,280.06 L412.20,280.16 L412.70,280.26 L413.20,280.37 L413.70,280.47 L414.20,280.57 L414.70,280.67 L415.20,280.78 L415.70,280.88 L416.20,280.98 L416.70,281.09 L417.20,281.19 L417.70,281.30 L418.20,281.40 L418.70,281.51 L419.20,281.62 L419.70,281.72 L420.20,281.83 L420.70,281.94 L421.20,282.04 L421.70,282.15 L422.20,282.26 L422.70,282.36 L423.20,282.47 L423.70,282.58 L424.20,282.68 L424.70,282.79 L425.20,282.90 L425.70,283.00 L426.20,283.11 L426.70,283.21 L427.20,283.32 L427.70,283.42 L428.20,283.53 L428.70,283.63 L429.20,283.74 L429.70,283.84 L430.20,283.94 L430.70,284.04 L431.20,284.15 L431.70,284.25 L432.20,284.35 L432.70,284.45 L433.20,284.55 L433.70,284.65 L434.20,284.74 L434.70,284.84 L435.20,284.94 L435.70,285.03 L436.20,285.12 L436.70,285.22 L437.20,285.31 L437.70,285.40 L438.20,285.49 L438.70,285.58 L439.20,285.67 L439.70,285.76 L440.20,285.84 L440.70,285.93 L441.20,286.01 L441.70,286.09 L442.20,286.17 L442.70,286.25 L443.20,286.33 L443.70,286.41 L444.20,286.48 L444.70,286.56 L445.20,286.63 L445.70,286.70 L446.20,286.77 L446.70,286.84 L447.20,286.90 L447.70,286.97 L448.20,287.03 L448.70,287.09 L449.20,287.15 L449.70,287.21 L450.20,287.26 L450.70,287.32 L451.20,287.37 L451.70,287.42 L452.20,287.46 L452.50,287.50" stroke="#a01414" stroke-width="1.35"/>
<path clip-path="url(#cpc)" d="M71.50,292.30 L72.00,292.30 L72.50,292.30 L73.00,292.30 L73.50,292.30 L74.00,292.30 L74.50,292.30 L75.00,292.30 L75.50,292.30 L76.00,292.30 L76.50,292.30 L77.00,292.30 L77.50,292.30 L78.00,292.30 L78.50,292.30 L79.00,292.30 L79.50,292.30 L80.00,292.30 L80.50,292.30 L81.00,292.30 L81.50,292.30 L82.00,292.30 L82.50,292.30 L83.00,292.30 L83.50,292.30 L84.00,292.30 L84.50,292.30 L85.00,292.30 L85.50,292.30 L86.00,292.30 L86.50,292.30 L87.00,292.30 L87.50,292.30 L88.00,292.30 L88.50,292.30 L89.00,292.30 L89.50,292.30 L90.00,292.30 L90.50,292.30 L91.00,292.30 L91.50,292.30 L92.00,292.30 L92.50,292.30 L93.00,292.30 L93.50,292.30 L94.00,292.30 L94.50,292.30 L95.00,292.30 L95.50,292.30 L96.00,292.30 L96.50,292.30 L97.00,292.30 L97.50,292.30 L98.00,292.30 L98.50,292.30 L99.00,292.30 L99.50,292.30 L100.00,292.30 L100.50,292.30 L101.00,292.30 L101.50,292.30 L102.00,292.30 L102.50,292.30 L103.00,292.30 L103.50,292.30 L104.00,292.30 L104.50,292.30 L105.00,292.30 L105.50,292.30 L106.00,292.30 L106.50,292.30 L107.00,292.30 L107.50,292.30 L108.00,292.30 L108.50,292.30 L109.00,292.30 L109.50,292.30 L110.00,292.30 L110.50,292.30 L111.00,292.30 L111.50,292.30 L112.00,292.30 L112.50,292.30 L113.00,292.30 L113.50,292.30 L114.00,292.30 L114.50,292.30 L115.00,292.30 L115.50,292.30 L116.00,292.30 L116.50,292.30 L117.00,292.30 L117.50,292.30 L118.00,292.30 L118.50,292.30 L119.00,292.30 L119.50,292.30 L120.00,292.30 L120.50,292.30 L121.00,292.30 L121.50,292.30 L122.00,292.30 L122.50,292.30 L123.00,292.30 L123.50,292.30 L124.00,292.30 L124.40,292.30 L124.90,292.06 L125.40,291.81 L125.90,291.57 L126.40,291.33 L126.90,291.09 L127.40,290.86 L127.90,290.62 L128.40,290.39 L128.90,290.15 L129.40,289.92 L129.90,289.69 L130.40,289.46 L130.90,289.23 L131.40,289.00 L131.90,288.78 L132.40,288.55 L132.90,288.33 L133.40,288.10 L133.90,287.88 L134.40,287.66 L134.90,287.44 L135.40,287.22 L135.90,287.00 L136.40,286.78 L136.90,286.57 L137.40,286.35 L137.90,286.14 L138.40,285.92 L138.90,285.71 L139.40,285.50 L139.90,285.28 L140.40,285.07 L140.90,284.86 L141.40,284.65 L141.90,284.44 L142.40,284.24 L142.90,284.03 L143.40,283.82 L143.90,283.62 L144.40,283.41 L144.90,283.21 L145.40,283.00 L145.90,282.80 L146.40,282.60 L146.90,282.39 L147.40,282.19 L147.90,281.99 L148.40,281.79 L148.90,281.59 L149.40,281.39 L149.90,281.19 L150.40,280.99 L150.90,280.79 L151.40,280.59 L151.90,280.40 L152.40,280.20 L152.90,280.00 L153.40,279.80 L153.90,279.61 L154.40,279.41 L154.90,279.22 L155.40,279.02 L155.90,278.82 L156.40,278.63 L156.90,278.43 L157.40,278.24 L157.90,278.04 L158.40,277.85 L158.90,277.65 L159.40,277.46 L159.90,277.27 L160.40,277.07 L160.90,276.88 L161.40,276.68 L161.90,276.49 L162.40,276.29 L162.90,276.10 L163.40,275.90 L163.90,275.71 L164.40,275.52 L164.90,275.32 L165.40,275.13 L165.90,274.93 L166.40,274.74 L166.90,274.54 L167.40,274.34 L167.90,274.15 L168.40,273.95 L168.90,273.76 L169.40,273.56 L169.90,273.36 L170.40,273.17 L170.90,272.97 L171.40,272.77 L171.90,272.57 L172.40,272.37 L172.90,272.18 L173.40,271.98 L173.90,271.78 L174.10,271.70 L174.60,271.40 L175.10,271.10 L175.60,270.79 L176.10,270.49 L176.60,270.19 L177.10,269.89 L177.60,269.59 L178.10,269.29 L178.60,268.99 L179.10,268.69 L179.60,268.39 L180.10,268.09 L180.60,267.79 L181.10,267.49 L181.60,267.19 L182.10,266.89 L182.60,266.59 L183.10,266.29 L183.60,266.00 L184.10,265.70 L184.60,265.40 L185.10,265.10 L185.60,264.81 L186.10,264.51 L186.60,264.22 L187.10,263.92 L187.60,263.63 L188.10,263.33 L188.60,263.04 L189.10,262.75 L189.60,262.45 L190.10,262.16 L190.60,261.87 L191.10,261.58 L191.60,261.29 L192.10,261.00 L192.60,260.71 L193.10,260.42 L193.60,260.13 L194.10,259.84 L194.60,259.56 L195.10,259.27 L195.60,258.98 L196.10,258.70 L196.60,258.41 L197.10,258.13 L197.60,257.85 L198.10,257.56 L198.60,257.28 L199.10,257.00 L199.60,256.72 L200.10,256.44 L200.60,256.16 L201.10,255.88 L201.60,255.60 L202.10,255.33 L202.60,255.05 L203.10,254.77 L203.60,254.50 L204.10,254.23 L204.60,253.95 L205.10,253.68 L205.60,253.41 L205.80,253.30 L206.30,253.01 L206.80,252.72 L207.30,252.42 L207.80,252.12 L208.30,251.82 L208.80,251.52 L209.30,251.22 L209.80,250.91 L210.30,250.60 L210.80,250.29 L211.30,249.98 L211.80,249.67 L212.30,249.35 L212.80,249.04 L213.30,248.73 L213.80,248.42 L214.30,248.10 L214.80,247.79 L215.30,247.48 L215.80,247.17 L216.30,246.86 L216.80,246.55 L217.30,246.25 L217.80,245.94 L218.30,245.64 L218.80,245.34 L219.30,245.04 L219.80,244.75 L220.30,244.46 L220.80,244.17 L221.30,243.89 L221.80,243.61 L222.30,243.33 L222.80,243.06 L223.30,242.80 L223.80,242.53 L224.30,242.28 L224.80,242.02 L225.30,241.78 L225.80,241.54 L226.30,241.30 L226.80,241.07 L227.30,240.85 L227.80,240.64 L228.30,240.43 L228.80,240.23 L229.30,240.03 L229.80,239.85 L230.20,239.77 L230.70,239.41 L231.20,239.05 L231.70,238.70 L232.20,238.35 L232.70,238.01 L233.20,237.68 L233.70,237.36 L234.20,237.05 L234.70,236.74 L235.20,236.44 L235.70,236.15 L236.20,235.87 L236.70,235.59 L237.20,235.32 L237.70,235.06 L238.20,234.80 L238.70,234.55 L239.20,234.31 L239.70,234.08 L240.20,233.85 L240.70,233.63 L241.20,233.42 L241.70,233.21 L242.20,233.01 L242.70,232.82 L243.20,232.64 L243.70,232.46 L244.20,232.29 L244.70,232.12 L245.20,231.97 L245.70,231.82 L246.20,231.67 L246.70,231.54 L247.20,231.41 L247.70,231.28 L248.20,231.17 L248.70,231.06 L249.20,230.96 L249.70,230.86 L250.20,230.77 L250.70,230.69 L251.20,230.61 L251.70,230.54 L252.20,230.48 L252.70,230.42 L253.20,230.37 L253.70,230.33 L254.20,230.29 L254.70,230.26 L255.20,230.23 L255.70,230.21 L256.20,230.20 L256.70,230.20 L257.20,230.20 L257.70,230.20 L258.20,230.21 L258.70,230.23 L259.20,230.26 L259.70,230.29 L260.20,230.33 L260.70,230.37 L261.20,230.42 L261.70,230.47 L262.20,230.54 L262.70,230.60 L263.20,230.68 L263.70,230.76 L264.20,230.84 L264.70,230.93 L265.20,231.03 L265.70,231.13 L266.20,231.24 L266.70,231.35 L267.20,231.47 L267.70,231.60 L268.20,231.73 L268.70,231.87 L269.20,232.01 L269.70,232.16 L270.20,232.31 L270.70,232.47 L271.20,232.63 L271.70,232.80 L272.20,232.98 L272.70,233.16 L273.20,233.35 L273.70,233.54 L274.20,233.73 L274.70,233.94 L275.20,234.14 L275.70,234.36 L276.20,234.58 L276.70,234.80 L277.20,235.03 L277.70,235.26 L278.20,235.50 L278.70,235.75 L279.20,235.99 L279.70,236.25 L280.20,236.51 L280.70,236.77 L281.20,237.04 L281.70,237.32 L282.20,237.60 L282.70,237.88 L283.20,238.17 L283.70,238.46 L284.20,238.76 L284.70,239.06 L285.20,239.37 L285.70,239.69 L286.20,240.00 L286.70,240.33 L287.20,240.65 L287.70,240.98 L288.20,241.32 L288.70,241.66 L289.20,242.00 L289.70,242.35 L290.20,242.70 L290.70,243.06 L291.20,243.42 L291.70,243.78 L292.20,244.15 L292.70,244.52 L293.20,244.89 L293.70,245.27 L294.20,245.65 L294.70,246.04 L295.20,246.43 L295.70,246.82 L296.20,247.22 L296.70,247.62 L297.20,248.02 L297.70,248.42 L298.20,248.83 L298.70,249.24 L299.20,249.66 L299.70,250.07 L300.20,250.49 L300.70,250.91 L301.20,251.34 L301.70,251.77 L302.20,252.20 L302.70,252.63 L303.20,253.06 L303.70,253.50 L304.20,253.94 L304.70,254.38 L305.20,254.83 L305.70,255.27 L306.20,255.72 L306.70,256.17 L307.20,256.62 L307.70,257.07 L308.20,257.53 L308.70,257.99 L309.20,258.44 L309.70,258.90 L310.20,259.36 L310.70,259.83 L311.20,260.29 L311.70,260.76 L312.20,261.22 L312.70,261.69 L313.20,262.16 L313.70,262.63 L314.20,263.10 L314.70,263.57 L315.20,264.04 L315.70,264.52 L316.20,264.99 L316.70,265.46 L317.20,265.94 L317.70,266.41 L318.20,266.89 L318.70,267.37 L319.20,267.84 L319.70,268.32 L320.20,268.80 L320.70,269.27 L321.20,269.75 L321.70,270.23 L322.20,270.70 L322.70,271.18 L323.20,271.66 L323.70,272.13 L324.20,272.61 L324.70,273.08 L325.20,273.56 L325.70,274.03 L326.20,274.50 L326.70,274.98 L327.20,275.45 L327.70,275.92 L328.20,276.39 L328.70,276.86 L329.20,277.33 L329.70,277.80 L330.20,278.26 L330.70,278.73 L331.20,279.19 L331.70,279.65 L332.20,280.11 L332.70,280.57 L333.20,281.03 L333.70,281.49 L334.20,281.95 L334.70,282.40 L335.20,282.85 L335.70,283.30 L336.20,283.75 L336.70,284.20 L337.20,284.64 L337.70,285.09 L338.20,285.53 L338.70,285.97 L339.20,286.41 L339.70,286.84 L340.20,287.28 L340.70,287.71 L341.20,288.14 L341.70,288.57 L342.20,288.99 L342.70,289.42 L343.20,289.84 L343.70,290.26 L344.20,290.67 L344.70,291.09 L345.20,291.50 L345.70,291.91 L346.20,292.32 L346.70,292.72 L347.20,293.12 L347.70,293.52 L348.20,293.92 L348.70,294.31 L349.20,294.70 L349.70,295.09 L350.20,295.48 L350.70,295.86 L351.20,296.24 L351.70,296.62 L352.20,296.99 L352.70,297.36 L353.20,297.73 L353.70,298.09 L354.20,298.45 L354.70,298.81 L355.20,299.17 L355.70,299.52 L356.20,299.86 L356.70,300.21 L357.20,300.55 L357.70,300.89 L358.20,301.22 L358.70,301.55 L359.20,301.88 L359.70,302.20 L360.20,302.52 L360.70,302.84 L361.20,303.15 L361.70,303.46 L362.20,303.76 L362.70,304.06 L363.20,304.36 L363.70,304.65 L364.20,304.94 L364.70,305.23 L365.20,305.51 L365.70,305.78 L366.20,306.05 L366.70,306.32 L367.20,306.59 L367.70,306.84 L368.20,307.10 L368.70,307.35 L369.20,307.60 L369.70,307.84 L370.20,308.07 L370.70,308.31 L371.20,308.53 L371.70,308.76 L372.20,308.98 L372.70,309.19 L373.20,309.40 L373.70,309.60 L374.20,309.80 L374.70,310.00 L375.20,310.19 L375.70,310.37 L376.20,310.55 L376.70,310.73 L377.20,310.90 L377.70,311.06 L378.20,311.23 L378.70,311.38 L379.20,311.54 L379.70,311.68 L380.20,311.83 L380.70,311.97 L381.20,312.10 L381.70,312.23 L382.20,312.36 L382.70,312.48 L383.20,312.60 L383.70,312.71 L384.20,312.82 L384.70,312.93 L385.20,313.03 L385.70,313.13 L386.20,313.22 L386.70,313.31 L387.20,313.39 L387.70,313.48 L388.20,313.55 L388.70,313.63 L389.20,313.70 L389.70,313.76 L390.20,313.82 L390.70,313.88 L391.20,313.94 L391.70,313.99 L392.20,314.04 L392.70,314.08 L393.20,314.12 L393.70,314.16 L394.20,314.19 L394.70,314.22 L395.20,314.25 L395.70,314.27 L396.20,314.29 L396.70,314.31 L397.20,314.32 L397.70,314.33 L398.20,314.34 L398.70,314.34 L399.20,314.35 L399.70,314.34 L400.20,314.34 L400.70,314.33 L401.20,314.32 L401.70,314.30 L402.20,314.29 L402.70,314.27 L403.20,314.24 L403.70,314.22 L404.20,314.19 L404.70,314.16 L405.20,314.12 L405.70,314.09 L406.20,314.05 L406.70,314.00 L407.20,313.96 L407.70,313.91 L408.20,313.86 L408.70,313.81 L409.20,313.76 L409.70,313.70 L410.20,313.64 L410.70,313.58 L411.20,313.51 L411.70,313.45 L412.20,313.38 L412.70,313.31 L413.20,313.23 L413.70,313.16 L414.20,313.08 L414.70,313.00 L415.20,312.92 L415.70,312.84 L416.20,312.75 L416.70,312.66 L417.20,312.58 L417.70,312.48 L418.20,312.39 L418.70,312.30 L419.20,312.20 L419.70,312.10 L420.20,312.00 L420.70,311.90 L421.20,311.80 L421.70,311.69 L422.20,311.59 L422.70,311.48 L423.20,311.37 L423.70,311.26 L424.20,311.15 L424.70,311.03 L425.20,310.92 L425.70,310.80 L426.20,310.68 L426.70,310.57 L427.20,310.45 L427.70,310.32 L428.20,310.20 L428.70,310.08 L429.20,309.95 L429.70,309.83 L430.20,309.70 L430.70,309.57 L431.20,309.45 L431.70,309.32 L432.20,309.19 L432.70,309.06 L433.20,308.92 L433.70,308.79 L434.20,308.66 L434.70,308.52 L435.20,308.39 L435.70,308.25 L436.20,308.12 L436.70,307.98 L437.20,307.84 L437.70,307.71 L438.20,307.57 L438.70,307.43 L439.20,307.29 L439.70,307.15 L440.20,307.01 L440.70,306.87 L441.20,306.73 L441.70,306.59 L442.20,306.45 L442.70,306.31 L443.20,306.17 L443.70,306.03 L444.20,305.89 L444.70,305.75 L445.20,305.61 L445.70,305.46 L446.20,305.32 L446.70,305.18 L447.20,305.04 L447.70,304.90 L448.20,304.76 L448.70,304.62 L449.20,304.48 L449.70,304.34 L450.20,304.20 L450.70,304.07 L451.20,303.93 L451.70,303.79 L452.20,303.65 L452.50,303.60" stroke="#1a1aff" stroke-width="1.35" stroke-dasharray="1.25 1.95"/>
</g>
<g stroke="#0a0a0a" stroke-width="1.25" fill="none">
<rect x="71.5" y="2.5" width="381.0" height="106.25"/>
<rect x="71.5" y="108.75" width="381.0" height="106.75"/>
<rect x="71.5" y="215.5" width="381.0" height="106.5"/>
</g>
<text x="61.8" y="96.94" text-anchor="end">0.3</text>
<text x="61.8" y="61.52" text-anchor="end">0.4</text>
<text x="61.8" y="26.11" text-anchor="end">0.5</text>
<text x="61.8" y="203.61" text-anchor="end">0.3</text>
<text x="61.8" y="168.03" text-anchor="end">0.4</text>
<text x="61.8" y="132.44" text-anchor="end">0.5</text>
<text x="61.8" y="310.15" text-anchor="end">0.3</text>
<text x="61.8" y="274.65" text-anchor="end">0.4</text>
<text x="61.8" y="239.15" text-anchor="end">0.5</text>
<text x="126.60" y="343.7" text-anchor="middle">0</text>
<text x="232.30" y="343.7" text-anchor="middle">1</text>
<text x="338.00" y="343.7" text-anchor="middle">2</text>
<text x="443.70" y="343.7" text-anchor="middle">3</text>
<text x="261.6" y="366.4" text-anchor="middle">time [ps]</text>
<text x="81.0" y="18.80">(a)</text>
<text x="81.0" y="125.05">(b)</text>
<text x="81.0" y="231.80">(c)</text>
<text x="409.8" y="19.80" text-anchor="end">symmetric rotor</text>
<line x1="419.2" y1="14.70" x2="434.2" y2="14.70" stroke="#1a1aff" stroke-width="1.35" stroke-dasharray="1.25 1.95"/>
<text x="409.8" y="126.05" text-anchor="end">asymmetric rotor</text>
<line x1="419.5" y1="120.95" x2="433.6" y2="120.95" stroke="#a01414" stroke-width="1.35"/>
<g transform="translate(22.2,56.23) rotate(-90)"><text x="0" y="0" text-anchor="middle">&lt;cos<tspan font-size="12.52" dx="0" dy="-9.3">2</tspan><tspan dx="0.3" dy="9.3">&#952;</tspan><tspan font-size="12.52" dx="-0.4" dy="3.6">zc</tspan><tspan dy="-3.6">&gt;</tspan></text></g>
<g transform="translate(22.2,162.72) rotate(-90)"><text x="0" y="0" text-anchor="middle">&lt;cos<tspan font-size="12.52" dx="0" dy="-9.3">2</tspan><tspan dx="0.3" dy="9.3">&#952;</tspan><tspan font-size="12.52" dx="-0.4" dy="3.6">yb</tspan><tspan dy="-3.6">&gt;</tspan></text></g>
<g transform="translate(22.2,269.35) rotate(-90)"><text x="0" y="0" text-anchor="middle">&lt;cos<tspan font-size="12.52" dx="0" dy="-9.3">2</tspan><tspan dx="0.3" dy="9.3">&#952;</tspan><tspan font-size="12.52" dx="-0.4" dy="3.6">xa</tspan><tspan dy="-3.6">&gt;</tspan></text></g>
</svg>
</body></html>
